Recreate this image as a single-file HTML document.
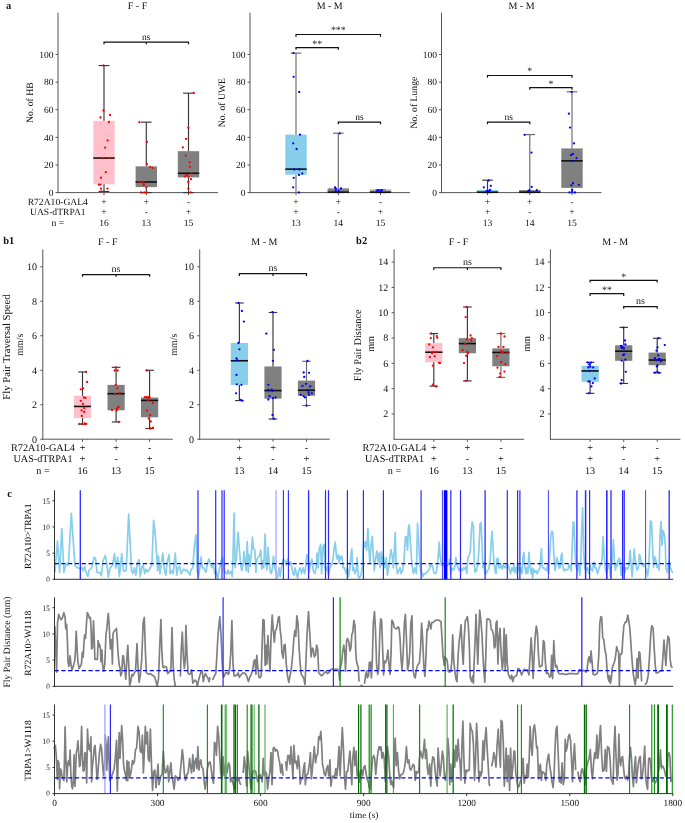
<!DOCTYPE html>
<html><head><meta charset="utf-8"><style>
html,body{margin:0;padding:0;background:#fff;}
svg{display:block;font-family:"Liberation Serif", serif;text-rendering:geometricPrecision;filter:blur(0.3px);}
</style></head><body>
<svg width="685" height="823" viewBox="0 0 685 823">
<rect width="685" height="823" fill="#fff"/>
<text x="8.60" y="8.80" font-size="10.5" text-anchor="middle" font-weight="bold" fill="#111">a</text>
<line x1="58.00" y1="12.60" x2="58.00" y2="193.10" stroke="#555" stroke-width="1"/>
<line x1="57.50" y1="192.60" x2="218.00" y2="192.60" stroke="#555" stroke-width="1"/>
<line x1="55.50" y1="192.60" x2="58.00" y2="192.60" stroke="#555" stroke-width="1"/>
<text x="53.50" y="195.83" font-size="9.5" text-anchor="end" font-weight="normal" fill="#111">0</text>
<line x1="55.50" y1="164.98" x2="58.00" y2="164.98" stroke="#555" stroke-width="1"/>
<text x="53.50" y="168.21" font-size="9.5" text-anchor="end" font-weight="normal" fill="#111">20</text>
<line x1="55.50" y1="137.36" x2="58.00" y2="137.36" stroke="#555" stroke-width="1"/>
<text x="53.50" y="140.59" font-size="9.5" text-anchor="end" font-weight="normal" fill="#111">40</text>
<line x1="55.50" y1="109.74" x2="58.00" y2="109.74" stroke="#555" stroke-width="1"/>
<text x="53.50" y="112.97" font-size="9.5" text-anchor="end" font-weight="normal" fill="#111">60</text>
<line x1="55.50" y1="82.12" x2="58.00" y2="82.12" stroke="#555" stroke-width="1"/>
<text x="53.50" y="85.35" font-size="9.5" text-anchor="end" font-weight="normal" fill="#111">80</text>
<line x1="55.50" y1="54.50" x2="58.00" y2="54.50" stroke="#555" stroke-width="1"/>
<text x="53.50" y="57.73" font-size="9.5" text-anchor="end" font-weight="normal" fill="#111">100</text>
<line x1="104.00" y1="192.60" x2="104.00" y2="195.10" stroke="#555" stroke-width="1"/>
<line x1="146.30" y1="192.60" x2="146.30" y2="195.10" stroke="#555" stroke-width="1"/>
<line x1="188.50" y1="192.60" x2="188.50" y2="195.10" stroke="#555" stroke-width="1"/>
<rect x="93.30" y="120.79" width="21.40" height="63.53" fill="#ffc0cb"/>
<line x1="104.00" y1="65.55" x2="104.00" y2="120.79" stroke="#363636" stroke-width="1.15"/>
<line x1="104.00" y1="184.31" x2="104.00" y2="191.50" stroke="#363636" stroke-width="1.15"/>
<line x1="98.65" y1="65.55" x2="109.35" y2="65.55" stroke="#363636" stroke-width="1.15"/>
<line x1="98.65" y1="191.50" x2="109.35" y2="191.50" stroke="#363636" stroke-width="1.15"/>
<line x1="93.30" y1="158.07" x2="114.70" y2="158.07" stroke="#111" stroke-width="1.6"/>
<circle cx="103.40" cy="65.50" r="1.15" fill="#ff0000"/>
<circle cx="103.40" cy="110.50" r="1.15" fill="#ff0000"/>
<circle cx="100.50" cy="117.50" r="1.15" fill="#ff0000"/>
<circle cx="110.00" cy="115.00" r="1.15" fill="#ff0000"/>
<circle cx="109.00" cy="122.00" r="1.15" fill="#ff0000"/>
<circle cx="107.60" cy="140.40" r="1.15" fill="#ff0000"/>
<circle cx="105.10" cy="147.60" r="1.15" fill="#ff0000"/>
<circle cx="103.10" cy="158.10" r="1.15" fill="#ff0000"/>
<circle cx="109.60" cy="158.10" r="1.15" fill="#ff0000"/>
<circle cx="105.80" cy="172.20" r="1.15" fill="#ff0000"/>
<circle cx="101.00" cy="177.70" r="1.15" fill="#ff0000"/>
<circle cx="98.80" cy="184.70" r="1.15" fill="#ff0000"/>
<circle cx="100.50" cy="184.70" r="1.15" fill="#ff0000"/>
<circle cx="101.00" cy="188.60" r="1.15" fill="#ff0000"/>
<circle cx="107.50" cy="188.60" r="1.15" fill="#ff0000"/>
<circle cx="101.40" cy="191.50" r="1.15" fill="#ff0000"/>
<rect x="135.60" y="166.36" width="21.40" height="20.71" fill="#808080"/>
<line x1="146.30" y1="122.17" x2="146.30" y2="166.36" stroke="#363636" stroke-width="1.15"/>
<line x1="146.30" y1="187.08" x2="146.30" y2="192.60" stroke="#363636" stroke-width="1.15"/>
<line x1="140.95" y1="122.17" x2="151.65" y2="122.17" stroke="#363636" stroke-width="1.15"/>
<line x1="140.95" y1="192.60" x2="151.65" y2="192.60" stroke="#363636" stroke-width="1.15"/>
<line x1="135.60" y1="181.97" x2="157.00" y2="181.97" stroke="#111" stroke-width="1.6"/>
<circle cx="139.40" cy="122.20" r="1.15" fill="#ff0000"/>
<circle cx="146.90" cy="141.90" r="1.15" fill="#ff0000"/>
<circle cx="146.90" cy="163.90" r="1.15" fill="#ff0000"/>
<circle cx="150.20" cy="166.80" r="1.15" fill="#ff0000"/>
<circle cx="152.60" cy="168.10" r="1.15" fill="#ff0000"/>
<circle cx="139.70" cy="182.00" r="1.15" fill="#ff0000"/>
<circle cx="143.30" cy="182.00" r="1.15" fill="#ff0000"/>
<circle cx="143.70" cy="183.80" r="1.15" fill="#ff0000"/>
<circle cx="143.70" cy="185.20" r="1.15" fill="#ff0000"/>
<circle cx="146.30" cy="187.30" r="1.15" fill="#ff0000"/>
<circle cx="141.00" cy="192.50" r="1.15" fill="#ff0000"/>
<circle cx="144.30" cy="192.50" r="1.15" fill="#ff0000"/>
<circle cx="146.90" cy="192.50" r="1.15" fill="#ff0000"/>
<rect x="177.80" y="151.17" width="21.40" height="26.24" fill="#808080"/>
<line x1="188.50" y1="93.17" x2="188.50" y2="151.17" stroke="#363636" stroke-width="1.15"/>
<line x1="188.50" y1="177.41" x2="188.50" y2="192.60" stroke="#363636" stroke-width="1.15"/>
<line x1="183.15" y1="93.17" x2="193.85" y2="93.17" stroke="#363636" stroke-width="1.15"/>
<line x1="183.15" y1="192.60" x2="193.85" y2="192.60" stroke="#363636" stroke-width="1.15"/>
<line x1="177.80" y1="173.27" x2="199.20" y2="173.27" stroke="#111" stroke-width="1.6"/>
<circle cx="193.80" cy="92.90" r="1.15" fill="#ff0000"/>
<circle cx="188.30" cy="127.70" r="1.15" fill="#ff0000"/>
<circle cx="186.10" cy="138.90" r="1.15" fill="#ff0000"/>
<circle cx="182.80" cy="147.40" r="1.15" fill="#ff0000"/>
<circle cx="185.70" cy="155.60" r="1.15" fill="#ff0000"/>
<circle cx="189.60" cy="162.30" r="1.15" fill="#ff0000"/>
<circle cx="189.90" cy="166.80" r="1.15" fill="#ff0000"/>
<circle cx="191.60" cy="173.70" r="1.15" fill="#ff0000"/>
<circle cx="187.00" cy="175.00" r="1.15" fill="#ff0000"/>
<circle cx="185.00" cy="176.40" r="1.15" fill="#ff0000"/>
<circle cx="188.30" cy="176.60" r="1.15" fill="#ff0000"/>
<circle cx="191.00" cy="179.20" r="1.15" fill="#ff0000"/>
<circle cx="188.30" cy="182.00" r="1.15" fill="#ff0000"/>
<circle cx="188.30" cy="188.60" r="1.15" fill="#ff0000"/>
<circle cx="190.60" cy="192.40" r="1.15" fill="#ff0000"/>
<path d="M104.00 44.27 V42.07 H188.50 V44.27" fill="none" stroke="#111" stroke-width="1.2"/>
<line x1="146.30" y1="42.07" x2="146.30" y2="44.27" stroke="#111" stroke-width="1.2"/>
<text x="146.25" y="40.07" font-size="9.5" text-anchor="middle" font-weight="normal" fill="#111">ns</text>
<text x="137.50" y="8.80" font-size="10" text-anchor="middle" font-weight="normal" fill="#111">F - F</text>
<text x="33.30" y="102.60" font-size="9.7" text-anchor="middle" font-weight="normal" fill="#111" transform="rotate(-90 33.3 102.6)">No. of HB</text>
<line x1="250.00" y1="12.60" x2="250.00" y2="193.10" stroke="#555" stroke-width="1"/>
<line x1="249.50" y1="192.60" x2="410.00" y2="192.60" stroke="#555" stroke-width="1"/>
<line x1="247.50" y1="192.60" x2="250.00" y2="192.60" stroke="#555" stroke-width="1"/>
<text x="245.50" y="195.83" font-size="9.5" text-anchor="end" font-weight="normal" fill="#111">0</text>
<line x1="247.50" y1="164.98" x2="250.00" y2="164.98" stroke="#555" stroke-width="1"/>
<text x="245.50" y="168.21" font-size="9.5" text-anchor="end" font-weight="normal" fill="#111">20</text>
<line x1="247.50" y1="137.36" x2="250.00" y2="137.36" stroke="#555" stroke-width="1"/>
<text x="245.50" y="140.59" font-size="9.5" text-anchor="end" font-weight="normal" fill="#111">40</text>
<line x1="247.50" y1="109.74" x2="250.00" y2="109.74" stroke="#555" stroke-width="1"/>
<text x="245.50" y="112.97" font-size="9.5" text-anchor="end" font-weight="normal" fill="#111">60</text>
<line x1="247.50" y1="82.12" x2="250.00" y2="82.12" stroke="#555" stroke-width="1"/>
<text x="245.50" y="85.35" font-size="9.5" text-anchor="end" font-weight="normal" fill="#111">80</text>
<line x1="247.50" y1="54.50" x2="250.00" y2="54.50" stroke="#555" stroke-width="1"/>
<text x="245.50" y="57.73" font-size="9.5" text-anchor="end" font-weight="normal" fill="#111">100</text>
<line x1="296.00" y1="192.60" x2="296.00" y2="195.10" stroke="#555" stroke-width="1"/>
<line x1="338.30" y1="192.60" x2="338.30" y2="195.10" stroke="#555" stroke-width="1"/>
<line x1="380.50" y1="192.60" x2="380.50" y2="195.10" stroke="#555" stroke-width="1"/>
<rect x="285.30" y="134.60" width="21.40" height="40.05" fill="#87ceeb"/>
<line x1="296.00" y1="53.12" x2="296.00" y2="134.60" stroke="#6a6a6a" stroke-width="1.15"/>
<line x1="296.00" y1="174.65" x2="296.00" y2="192.60" stroke="#6a6a6a" stroke-width="1.15"/>
<line x1="290.65" y1="53.12" x2="301.35" y2="53.12" stroke="#6a6a6a" stroke-width="1.15"/>
<line x1="290.65" y1="192.60" x2="301.35" y2="192.60" stroke="#6a6a6a" stroke-width="1.15"/>
<line x1="285.30" y1="169.12" x2="306.70" y2="169.12" stroke="#111" stroke-width="1.6"/>
<circle cx="293.60" cy="53.10" r="1.15" fill="#0000ff"/>
<circle cx="293.60" cy="76.80" r="1.15" fill="#0000ff"/>
<circle cx="299.20" cy="91.90" r="1.15" fill="#0000ff"/>
<circle cx="300.00" cy="134.70" r="1.15" fill="#0000ff"/>
<circle cx="293.20" cy="143.30" r="1.15" fill="#0000ff"/>
<circle cx="296.60" cy="149.00" r="1.15" fill="#0000ff"/>
<circle cx="294.10" cy="169.50" r="1.15" fill="#0000ff"/>
<circle cx="299.40" cy="169.50" r="1.15" fill="#0000ff"/>
<circle cx="302.30" cy="173.60" r="1.15" fill="#0000ff"/>
<circle cx="299.00" cy="175.00" r="1.15" fill="#0000ff"/>
<circle cx="293.70" cy="177.80" r="1.15" fill="#0000ff"/>
<circle cx="293.20" cy="187.30" r="1.15" fill="#0000ff"/>
<circle cx="298.80" cy="192.40" r="1.15" fill="#0000ff"/>
<rect x="327.60" y="188.32" width="21.40" height="4.28" fill="#808080"/>
<line x1="338.30" y1="133.22" x2="338.30" y2="188.32" stroke="#6a6a6a" stroke-width="1.15"/>
<line x1="338.30" y1="192.60" x2="338.30" y2="192.60" stroke="#6a6a6a" stroke-width="1.15"/>
<line x1="332.95" y1="133.22" x2="343.65" y2="133.22" stroke="#6a6a6a" stroke-width="1.15"/>
<line x1="332.95" y1="192.60" x2="343.65" y2="192.60" stroke="#6a6a6a" stroke-width="1.15"/>
<line x1="327.60" y1="192.19" x2="349.00" y2="192.19" stroke="#111" stroke-width="1.6"/>
<circle cx="339.70" cy="133.40" r="1.15" fill="#0000ff"/>
<circle cx="335.00" cy="187.30" r="1.15" fill="#0000ff"/>
<circle cx="335.80" cy="188.70" r="1.15" fill="#0000ff"/>
<circle cx="341.00" cy="188.50" r="1.15" fill="#0000ff"/>
<circle cx="335.80" cy="191.00" r="1.15" fill="#0000ff"/>
<circle cx="338.70" cy="191.00" r="1.15" fill="#0000ff"/>
<rect x="369.80" y="189.42" width="21.40" height="3.18" fill="#b0b0b0"/>
<line x1="380.50" y1="189.84" x2="380.50" y2="189.42" stroke="#6a6a6a" stroke-width="1.15"/>
<line x1="380.50" y1="192.60" x2="380.50" y2="192.60" stroke="#6a6a6a" stroke-width="1.15"/>
<line x1="375.15" y1="189.84" x2="385.85" y2="189.84" stroke="#6a6a6a" stroke-width="1.15"/>
<line x1="375.15" y1="192.60" x2="385.85" y2="192.60" stroke="#6a6a6a" stroke-width="1.15"/>
<line x1="369.80" y1="192.19" x2="391.20" y2="192.19" stroke="#111" stroke-width="1.6"/>
<circle cx="377.20" cy="191.00" r="1.15" fill="#0000ff"/>
<circle cx="378.40" cy="190.10" r="1.15" fill="#0000ff"/>
<circle cx="381.90" cy="190.10" r="1.15" fill="#0000ff"/>
<circle cx="380.50" cy="191.00" r="1.15" fill="#0000ff"/>
<path d="M296.00 36.68 V34.48 H380.50 V36.68" fill="none" stroke="#111" stroke-width="1.2"/>
<text x="338.25" y="33.48" font-size="9.8" text-anchor="middle" font-weight="normal" fill="#111">***</text>
<path d="M296.00 49.80 V47.59 H338.30 V49.80" fill="none" stroke="#111" stroke-width="1.2"/>
<text x="317.15" y="46.59" font-size="9.8" text-anchor="middle" font-weight="normal" fill="#111">**</text>
<path d="M338.30 124.23 V122.03 H380.50 V124.23" fill="none" stroke="#111" stroke-width="1.2"/>
<text x="359.40" y="120.03" font-size="9.5" text-anchor="middle" font-weight="normal" fill="#111">ns</text>
<text x="329.70" y="8.80" font-size="10" text-anchor="middle" font-weight="normal" fill="#111">M - M</text>
<text x="225.30" y="102.60" font-size="9.7" text-anchor="middle" font-weight="normal" fill="#111" transform="rotate(-90 225.3 102.6)">No. of UWE</text>
<line x1="441.50" y1="12.60" x2="441.50" y2="193.10" stroke="#555" stroke-width="1"/>
<line x1="441.00" y1="192.60" x2="601.50" y2="192.60" stroke="#555" stroke-width="1"/>
<line x1="439.00" y1="192.60" x2="441.50" y2="192.60" stroke="#555" stroke-width="1"/>
<text x="437.00" y="195.83" font-size="9.5" text-anchor="end" font-weight="normal" fill="#111">0</text>
<line x1="439.00" y1="164.98" x2="441.50" y2="164.98" stroke="#555" stroke-width="1"/>
<text x="437.00" y="168.21" font-size="9.5" text-anchor="end" font-weight="normal" fill="#111">20</text>
<line x1="439.00" y1="137.36" x2="441.50" y2="137.36" stroke="#555" stroke-width="1"/>
<text x="437.00" y="140.59" font-size="9.5" text-anchor="end" font-weight="normal" fill="#111">40</text>
<line x1="439.00" y1="109.74" x2="441.50" y2="109.74" stroke="#555" stroke-width="1"/>
<text x="437.00" y="112.97" font-size="9.5" text-anchor="end" font-weight="normal" fill="#111">60</text>
<line x1="439.00" y1="82.12" x2="441.50" y2="82.12" stroke="#555" stroke-width="1"/>
<text x="437.00" y="85.35" font-size="9.5" text-anchor="end" font-weight="normal" fill="#111">80</text>
<line x1="439.00" y1="54.50" x2="441.50" y2="54.50" stroke="#555" stroke-width="1"/>
<text x="437.00" y="57.73" font-size="9.5" text-anchor="end" font-weight="normal" fill="#111">100</text>
<line x1="487.50" y1="192.60" x2="487.50" y2="195.10" stroke="#555" stroke-width="1"/>
<line x1="529.80" y1="192.60" x2="529.80" y2="195.10" stroke="#555" stroke-width="1"/>
<line x1="572.00" y1="192.60" x2="572.00" y2="195.10" stroke="#555" stroke-width="1"/>
<rect x="476.80" y="189.84" width="21.40" height="2.76" fill="#87ceeb"/>
<line x1="487.50" y1="180.17" x2="487.50" y2="189.84" stroke="#363636" stroke-width="1.15"/>
<line x1="487.50" y1="192.60" x2="487.50" y2="192.60" stroke="#363636" stroke-width="1.15"/>
<line x1="482.15" y1="180.17" x2="492.85" y2="180.17" stroke="#363636" stroke-width="1.15"/>
<line x1="482.15" y1="192.60" x2="492.85" y2="192.60" stroke="#363636" stroke-width="1.15"/>
<line x1="476.80" y1="192.19" x2="498.20" y2="192.19" stroke="#111" stroke-width="1.6"/>
<circle cx="488.70" cy="180.50" r="1.15" fill="#0000ff"/>
<circle cx="483.80" cy="187.30" r="1.15" fill="#0000ff"/>
<circle cx="490.80" cy="185.80" r="1.15" fill="#0000ff"/>
<circle cx="490.10" cy="189.90" r="1.15" fill="#0000ff"/>
<circle cx="488.90" cy="191.00" r="1.15" fill="#0000ff"/>
<circle cx="486.40" cy="191.30" r="1.15" fill="#0000ff"/>
<circle cx="487.50" cy="191.00" r="1.15" fill="#0000ff"/>
<rect x="519.10" y="190.11" width="21.40" height="2.49" fill="#808080"/>
<line x1="529.80" y1="134.60" x2="529.80" y2="190.11" stroke="#6a6a6a" stroke-width="1.15"/>
<line x1="529.80" y1="192.60" x2="529.80" y2="192.60" stroke="#6a6a6a" stroke-width="1.15"/>
<line x1="524.45" y1="134.60" x2="535.15" y2="134.60" stroke="#6a6a6a" stroke-width="1.15"/>
<line x1="524.45" y1="192.60" x2="535.15" y2="192.60" stroke="#6a6a6a" stroke-width="1.15"/>
<line x1="519.10" y1="192.19" x2="540.50" y2="192.19" stroke="#111" stroke-width="1.6"/>
<circle cx="524.60" cy="134.80" r="1.15" fill="#0000ff"/>
<circle cx="531.50" cy="152.60" r="1.15" fill="#0000ff"/>
<circle cx="531.70" cy="186.90" r="1.15" fill="#0000ff"/>
<circle cx="529.60" cy="190.10" r="1.15" fill="#0000ff"/>
<circle cx="536.80" cy="190.10" r="1.15" fill="#0000ff"/>
<circle cx="528.40" cy="191.00" r="1.15" fill="#0000ff"/>
<rect x="561.30" y="148.41" width="21.40" height="39.50" fill="#808080"/>
<line x1="572.00" y1="91.79" x2="572.00" y2="148.41" stroke="#6a6a6a" stroke-width="1.15"/>
<line x1="572.00" y1="187.90" x2="572.00" y2="192.60" stroke="#6a6a6a" stroke-width="1.15"/>
<line x1="566.65" y1="91.79" x2="577.35" y2="91.79" stroke="#6a6a6a" stroke-width="1.15"/>
<line x1="566.65" y1="192.60" x2="577.35" y2="192.60" stroke="#6a6a6a" stroke-width="1.15"/>
<line x1="561.30" y1="160.84" x2="582.70" y2="160.84" stroke="#111" stroke-width="1.6"/>
<circle cx="571.60" cy="91.90" r="1.15" fill="#0000ff"/>
<circle cx="568.90" cy="113.70" r="1.15" fill="#0000ff"/>
<circle cx="570.00" cy="127.60" r="1.15" fill="#0000ff"/>
<circle cx="574.00" cy="143.40" r="1.15" fill="#0000ff"/>
<circle cx="572.80" cy="154.00" r="1.15" fill="#0000ff"/>
<circle cx="571.00" cy="155.20" r="1.15" fill="#0000ff"/>
<circle cx="576.50" cy="158.10" r="1.15" fill="#0000ff"/>
<circle cx="572.60" cy="161.10" r="1.15" fill="#0000ff"/>
<circle cx="571.40" cy="185.30" r="1.15" fill="#0000ff"/>
<circle cx="573.00" cy="183.20" r="1.15" fill="#0000ff"/>
<circle cx="578.90" cy="184.80" r="1.15" fill="#0000ff"/>
<circle cx="572.20" cy="190.00" r="1.15" fill="#0000ff"/>
<circle cx="572.20" cy="192.00" r="1.15" fill="#0000ff"/>
<circle cx="569.50" cy="192.30" r="1.15" fill="#0000ff"/>
<circle cx="575.00" cy="192.40" r="1.15" fill="#0000ff"/>
<path d="M487.50 77.69 V75.49 H572.00 V77.69" fill="none" stroke="#111" stroke-width="1.2"/>
<text x="529.75" y="74.49" font-size="9.8" text-anchor="middle" font-weight="normal" fill="#111">*</text>
<path d="M529.80 89.84 V87.64 H572.00 V89.84" fill="none" stroke="#111" stroke-width="1.2"/>
<text x="550.90" y="86.64" font-size="9.8" text-anchor="middle" font-weight="normal" fill="#111">*</text>
<path d="M487.50 124.23 V122.03 H529.80 V124.23" fill="none" stroke="#111" stroke-width="1.2"/>
<text x="508.65" y="120.03" font-size="9.5" text-anchor="middle" font-weight="normal" fill="#111">ns</text>
<text x="521.50" y="8.80" font-size="10" text-anchor="middle" font-weight="normal" fill="#111">M - M</text>
<text x="417.00" y="102.60" font-size="9.7" text-anchor="middle" font-weight="normal" fill="#111" transform="rotate(-90 417 102.6)">No. of Lunge</text>
<text x="57.80" y="204.50" font-size="9.6" text-anchor="middle" font-weight="normal" fill="#111">R72A10-GAL4</text>
<text x="104.00" y="204.50" font-size="9.6" text-anchor="middle" font-weight="normal" fill="#111">+</text>
<text x="146.30" y="204.50" font-size="9.6" text-anchor="middle" font-weight="normal" fill="#111">+</text>
<text x="188.50" y="204.50" font-size="9.6" text-anchor="middle" font-weight="normal" fill="#111">-</text>
<text x="57.80" y="215.20" font-size="9.6" text-anchor="middle" font-weight="normal" fill="#111">UAS-dTRPA1</text>
<text x="104.00" y="215.20" font-size="9.6" text-anchor="middle" font-weight="normal" fill="#111">+</text>
<text x="146.30" y="215.20" font-size="9.6" text-anchor="middle" font-weight="normal" fill="#111">-</text>
<text x="188.50" y="215.20" font-size="9.6" text-anchor="middle" font-weight="normal" fill="#111">+</text>
<text x="57.80" y="226.00" font-size="9.6" text-anchor="middle" font-weight="normal" fill="#111">n =</text>
<text x="104.00" y="226.00" font-size="9.6" text-anchor="middle" font-weight="normal" fill="#111">16</text>
<text x="146.30" y="226.00" font-size="9.6" text-anchor="middle" font-weight="normal" fill="#111">13</text>
<text x="188.50" y="226.00" font-size="9.6" text-anchor="middle" font-weight="normal" fill="#111">15</text>
<text x="296.00" y="204.50" font-size="9.6" text-anchor="middle" font-weight="normal" fill="#111">+</text>
<text x="338.30" y="204.50" font-size="9.6" text-anchor="middle" font-weight="normal" fill="#111">+</text>
<text x="380.50" y="204.50" font-size="9.6" text-anchor="middle" font-weight="normal" fill="#111">-</text>
<text x="296.00" y="215.20" font-size="9.6" text-anchor="middle" font-weight="normal" fill="#111">+</text>
<text x="338.30" y="215.20" font-size="9.6" text-anchor="middle" font-weight="normal" fill="#111">-</text>
<text x="380.50" y="215.20" font-size="9.6" text-anchor="middle" font-weight="normal" fill="#111">+</text>
<text x="296.00" y="226.00" font-size="9.6" text-anchor="middle" font-weight="normal" fill="#111">13</text>
<text x="338.30" y="226.00" font-size="9.6" text-anchor="middle" font-weight="normal" fill="#111">14</text>
<text x="380.50" y="226.00" font-size="9.6" text-anchor="middle" font-weight="normal" fill="#111">15</text>
<text x="487.50" y="204.50" font-size="9.6" text-anchor="middle" font-weight="normal" fill="#111">+</text>
<text x="529.80" y="204.50" font-size="9.6" text-anchor="middle" font-weight="normal" fill="#111">+</text>
<text x="572.00" y="204.50" font-size="9.6" text-anchor="middle" font-weight="normal" fill="#111">-</text>
<text x="487.50" y="215.20" font-size="9.6" text-anchor="middle" font-weight="normal" fill="#111">+</text>
<text x="529.80" y="215.20" font-size="9.6" text-anchor="middle" font-weight="normal" fill="#111">-</text>
<text x="572.00" y="215.20" font-size="9.6" text-anchor="middle" font-weight="normal" fill="#111">+</text>
<text x="487.50" y="226.00" font-size="9.6" text-anchor="middle" font-weight="normal" fill="#111">13</text>
<text x="529.80" y="226.00" font-size="9.6" text-anchor="middle" font-weight="normal" fill="#111">14</text>
<text x="572.00" y="226.00" font-size="9.6" text-anchor="middle" font-weight="normal" fill="#111">15</text>
<text x="8.80" y="244.40" font-size="10.5" text-anchor="middle" font-weight="bold" fill="#111">b1</text>
<line x1="42.80" y1="249.40" x2="42.80" y2="439.70" stroke="#555" stroke-width="1"/>
<line x1="42.30" y1="439.20" x2="172.80" y2="439.20" stroke="#555" stroke-width="1"/>
<line x1="40.30" y1="439.20" x2="42.80" y2="439.20" stroke="#555" stroke-width="1"/>
<text x="37.00" y="442.60" font-size="10" text-anchor="end" font-weight="normal" fill="#111">0</text>
<line x1="40.30" y1="404.72" x2="42.80" y2="404.72" stroke="#555" stroke-width="1"/>
<text x="37.00" y="408.12" font-size="10" text-anchor="end" font-weight="normal" fill="#111">2</text>
<line x1="40.30" y1="370.24" x2="42.80" y2="370.24" stroke="#555" stroke-width="1"/>
<text x="37.00" y="373.64" font-size="10" text-anchor="end" font-weight="normal" fill="#111">4</text>
<line x1="40.30" y1="335.76" x2="42.80" y2="335.76" stroke="#555" stroke-width="1"/>
<text x="37.00" y="339.16" font-size="10" text-anchor="end" font-weight="normal" fill="#111">6</text>
<line x1="40.30" y1="301.28" x2="42.80" y2="301.28" stroke="#555" stroke-width="1"/>
<text x="37.00" y="304.68" font-size="10" text-anchor="end" font-weight="normal" fill="#111">8</text>
<line x1="40.30" y1="266.80" x2="42.80" y2="266.80" stroke="#555" stroke-width="1"/>
<text x="37.00" y="270.20" font-size="10" text-anchor="end" font-weight="normal" fill="#111">10</text>
<line x1="82.50" y1="439.20" x2="82.50" y2="441.70" stroke="#555" stroke-width="1"/>
<line x1="116.10" y1="439.20" x2="116.10" y2="441.70" stroke="#555" stroke-width="1"/>
<line x1="149.60" y1="439.20" x2="149.60" y2="441.70" stroke="#555" stroke-width="1"/>
<rect x="73.90" y="395.76" width="17.20" height="22.41" fill="#ffc0cb"/>
<line x1="82.50" y1="371.96" x2="82.50" y2="395.76" stroke="#363636" stroke-width="1.15"/>
<line x1="82.50" y1="418.17" x2="82.50" y2="424.20" stroke="#363636" stroke-width="1.15"/>
<line x1="78.20" y1="371.96" x2="86.80" y2="371.96" stroke="#363636" stroke-width="1.15"/>
<line x1="78.20" y1="424.20" x2="86.80" y2="424.20" stroke="#363636" stroke-width="1.15"/>
<line x1="73.90" y1="406.44" x2="91.10" y2="406.44" stroke="#111" stroke-width="1.6"/>
<circle cx="86.00" cy="371.90" r="1.15" fill="#ff0000"/>
<circle cx="87.10" cy="382.00" r="1.15" fill="#ff0000"/>
<circle cx="80.80" cy="389.30" r="1.15" fill="#ff0000"/>
<circle cx="83.10" cy="388.30" r="1.15" fill="#ff0000"/>
<circle cx="83.80" cy="397.50" r="1.15" fill="#ff0000"/>
<circle cx="85.50" cy="397.90" r="1.15" fill="#ff0000"/>
<circle cx="80.80" cy="400.80" r="1.15" fill="#ff0000"/>
<circle cx="83.10" cy="404.00" r="1.15" fill="#ff0000"/>
<circle cx="84.20" cy="408.00" r="1.15" fill="#ff0000"/>
<circle cx="81.60" cy="410.40" r="1.15" fill="#ff0000"/>
<circle cx="84.20" cy="412.00" r="1.15" fill="#ff0000"/>
<circle cx="81.80" cy="415.90" r="1.15" fill="#ff0000"/>
<circle cx="79.50" cy="423.80" r="1.15" fill="#ff0000"/>
<circle cx="82.10" cy="424.00" r="1.15" fill="#ff0000"/>
<circle cx="84.70" cy="423.50" r="1.15" fill="#ff0000"/>
<circle cx="86.40" cy="423.80" r="1.15" fill="#ff0000"/>
<rect x="107.50" y="384.89" width="17.20" height="25.34" fill="#808080"/>
<line x1="116.10" y1="367.31" x2="116.10" y2="384.89" stroke="#363636" stroke-width="1.15"/>
<line x1="116.10" y1="410.24" x2="116.10" y2="421.96" stroke="#363636" stroke-width="1.15"/>
<line x1="111.80" y1="367.31" x2="120.40" y2="367.31" stroke="#363636" stroke-width="1.15"/>
<line x1="111.80" y1="421.96" x2="120.40" y2="421.96" stroke="#363636" stroke-width="1.15"/>
<line x1="107.50" y1="393.69" x2="124.70" y2="393.69" stroke="#111" stroke-width="1.6"/>
<circle cx="115.70" cy="367.50" r="1.15" fill="#ff0000"/>
<circle cx="114.70" cy="370.50" r="1.15" fill="#ff0000"/>
<circle cx="117.60" cy="370.50" r="1.15" fill="#ff0000"/>
<circle cx="115.70" cy="385.00" r="1.15" fill="#ff0000"/>
<circle cx="117.30" cy="388.30" r="1.15" fill="#ff0000"/>
<circle cx="115.30" cy="393.80" r="1.15" fill="#ff0000"/>
<circle cx="119.70" cy="392.90" r="1.15" fill="#ff0000"/>
<circle cx="118.00" cy="406.90" r="1.15" fill="#ff0000"/>
<circle cx="117.00" cy="409.00" r="1.15" fill="#ff0000"/>
<circle cx="116.60" cy="410.40" r="1.15" fill="#ff0000"/>
<circle cx="112.00" cy="410.00" r="1.15" fill="#ff0000"/>
<circle cx="118.90" cy="421.80" r="1.15" fill="#ff0000"/>
<circle cx="118.60" cy="407.30" r="1.15" fill="#ff0000"/>
<rect x="141.00" y="397.48" width="17.20" height="19.83" fill="#808080"/>
<line x1="149.60" y1="370.24" x2="149.60" y2="397.48" stroke="#363636" stroke-width="1.15"/>
<line x1="149.60" y1="417.31" x2="149.60" y2="428.51" stroke="#363636" stroke-width="1.15"/>
<line x1="145.30" y1="370.24" x2="153.90" y2="370.24" stroke="#363636" stroke-width="1.15"/>
<line x1="145.30" y1="428.51" x2="153.90" y2="428.51" stroke="#363636" stroke-width="1.15"/>
<line x1="141.00" y1="400.41" x2="158.20" y2="400.41" stroke="#111" stroke-width="1.6"/>
<circle cx="146.90" cy="370.50" r="1.15" fill="#ff0000"/>
<circle cx="144.90" cy="397.20" r="1.15" fill="#ff0000"/>
<circle cx="146.50" cy="397.20" r="1.15" fill="#ff0000"/>
<circle cx="148.20" cy="397.50" r="1.15" fill="#ff0000"/>
<circle cx="149.50" cy="397.70" r="1.15" fill="#ff0000"/>
<circle cx="147.80" cy="400.10" r="1.15" fill="#ff0000"/>
<circle cx="152.80" cy="403.00" r="1.15" fill="#ff0000"/>
<circle cx="146.90" cy="410.60" r="1.15" fill="#ff0000"/>
<circle cx="150.10" cy="415.20" r="1.15" fill="#ff0000"/>
<circle cx="148.80" cy="418.50" r="1.15" fill="#ff0000"/>
<circle cx="150.80" cy="421.40" r="1.15" fill="#ff0000"/>
<circle cx="150.40" cy="428.40" r="1.15" fill="#ff0000"/>
<circle cx="152.80" cy="427.70" r="1.15" fill="#ff0000"/>
<circle cx="149.90" cy="428.40" r="1.15" fill="#ff0000"/>
<circle cx="148.60" cy="397.20" r="1.15" fill="#ff0000"/>
<path d="M82.50 276.76 V274.56 H149.60 V276.76" fill="none" stroke="#111" stroke-width="1.2"/>
<line x1="116.10" y1="274.56" x2="116.10" y2="276.76" stroke="#111" stroke-width="1.2"/>
<text x="116.05" y="271.76" font-size="10" text-anchor="middle" font-weight="normal" fill="#111">ns</text>
<text x="107.80" y="244.50" font-size="10" text-anchor="middle" font-weight="normal" fill="#111">F - F</text>
<text x="9.60" y="347.00" font-size="10.7" text-anchor="middle" font-weight="normal" fill="#111" transform="rotate(-90 9.6 347)">Fly Pair Traversal Speed</text>
<text x="23.30" y="344.70" font-size="9.95" text-anchor="middle" font-weight="normal" fill="#111" transform="rotate(-90 23.3 344.7)">mm/s</text>
<line x1="199.70" y1="249.40" x2="199.70" y2="439.70" stroke="#555" stroke-width="1"/>
<line x1="199.20" y1="439.20" x2="329.70" y2="439.20" stroke="#555" stroke-width="1"/>
<line x1="197.20" y1="439.20" x2="199.70" y2="439.20" stroke="#555" stroke-width="1"/>
<text x="193.90" y="442.60" font-size="10" text-anchor="end" font-weight="normal" fill="#111">0</text>
<line x1="197.20" y1="404.72" x2="199.70" y2="404.72" stroke="#555" stroke-width="1"/>
<text x="193.90" y="408.12" font-size="10" text-anchor="end" font-weight="normal" fill="#111">2</text>
<line x1="197.20" y1="370.24" x2="199.70" y2="370.24" stroke="#555" stroke-width="1"/>
<text x="193.90" y="373.64" font-size="10" text-anchor="end" font-weight="normal" fill="#111">4</text>
<line x1="197.20" y1="335.76" x2="199.70" y2="335.76" stroke="#555" stroke-width="1"/>
<text x="193.90" y="339.16" font-size="10" text-anchor="end" font-weight="normal" fill="#111">6</text>
<line x1="197.20" y1="301.28" x2="199.70" y2="301.28" stroke="#555" stroke-width="1"/>
<text x="193.90" y="304.68" font-size="10" text-anchor="end" font-weight="normal" fill="#111">8</text>
<line x1="197.20" y1="266.80" x2="199.70" y2="266.80" stroke="#555" stroke-width="1"/>
<text x="193.90" y="270.20" font-size="10" text-anchor="end" font-weight="normal" fill="#111">10</text>
<line x1="239.40" y1="439.20" x2="239.40" y2="441.70" stroke="#555" stroke-width="1"/>
<line x1="273.00" y1="439.20" x2="273.00" y2="441.70" stroke="#555" stroke-width="1"/>
<line x1="306.50" y1="439.20" x2="306.50" y2="441.70" stroke="#555" stroke-width="1"/>
<rect x="230.80" y="343.00" width="17.20" height="41.89" fill="#87ceeb"/>
<line x1="239.40" y1="303.00" x2="239.40" y2="343.00" stroke="#363636" stroke-width="1.15"/>
<line x1="239.40" y1="384.89" x2="239.40" y2="400.58" stroke="#363636" stroke-width="1.15"/>
<line x1="235.10" y1="303.00" x2="243.70" y2="303.00" stroke="#363636" stroke-width="1.15"/>
<line x1="235.10" y1="400.58" x2="243.70" y2="400.58" stroke="#363636" stroke-width="1.15"/>
<line x1="230.80" y1="360.76" x2="248.00" y2="360.76" stroke="#111" stroke-width="1.6"/>
<circle cx="238.40" cy="302.80" r="1.15" fill="#0000ff"/>
<circle cx="241.90" cy="311.00" r="1.15" fill="#0000ff"/>
<circle cx="243.90" cy="321.60" r="1.15" fill="#0000ff"/>
<circle cx="238.40" cy="343.00" r="1.15" fill="#0000ff"/>
<circle cx="239.40" cy="349.30" r="1.15" fill="#0000ff"/>
<circle cx="236.50" cy="358.50" r="1.15" fill="#0000ff"/>
<circle cx="237.30" cy="360.50" r="1.15" fill="#0000ff"/>
<circle cx="236.50" cy="374.90" r="1.15" fill="#0000ff"/>
<circle cx="236.80" cy="384.30" r="1.15" fill="#0000ff"/>
<circle cx="241.40" cy="384.80" r="1.15" fill="#0000ff"/>
<circle cx="236.10" cy="393.30" r="1.15" fill="#0000ff"/>
<circle cx="240.60" cy="399.80" r="1.15" fill="#0000ff"/>
<circle cx="242.20" cy="400.70" r="1.15" fill="#0000ff"/>
<rect x="264.40" y="366.45" width="17.20" height="32.24" fill="#808080"/>
<line x1="273.00" y1="312.49" x2="273.00" y2="366.45" stroke="#363636" stroke-width="1.15"/>
<line x1="273.00" y1="398.69" x2="273.00" y2="419.03" stroke="#363636" stroke-width="1.15"/>
<line x1="268.70" y1="312.49" x2="277.30" y2="312.49" stroke="#363636" stroke-width="1.15"/>
<line x1="268.70" y1="419.03" x2="277.30" y2="419.03" stroke="#363636" stroke-width="1.15"/>
<line x1="264.40" y1="390.58" x2="281.60" y2="390.58" stroke="#111" stroke-width="1.6"/>
<circle cx="272.50" cy="312.10" r="1.15" fill="#0000ff"/>
<circle cx="266.30" cy="333.60" r="1.15" fill="#0000ff"/>
<circle cx="273.90" cy="349.80" r="1.15" fill="#0000ff"/>
<circle cx="272.90" cy="360.80" r="1.15" fill="#0000ff"/>
<circle cx="268.40" cy="384.80" r="1.15" fill="#0000ff"/>
<circle cx="268.00" cy="390.00" r="1.15" fill="#0000ff"/>
<circle cx="271.70" cy="389.70" r="1.15" fill="#0000ff"/>
<circle cx="272.50" cy="390.80" r="1.15" fill="#0000ff"/>
<circle cx="269.60" cy="396.20" r="1.15" fill="#0000ff"/>
<circle cx="268.40" cy="399.50" r="1.15" fill="#0000ff"/>
<circle cx="272.90" cy="398.20" r="1.15" fill="#0000ff"/>
<circle cx="275.50" cy="397.40" r="1.15" fill="#0000ff"/>
<circle cx="272.50" cy="414.90" r="1.15" fill="#0000ff"/>
<circle cx="273.90" cy="418.70" r="1.15" fill="#0000ff"/>
<rect x="297.90" y="380.58" width="17.20" height="15.17" fill="#808080"/>
<line x1="306.50" y1="361.28" x2="306.50" y2="380.58" stroke="#6a6a6a" stroke-width="1.15"/>
<line x1="306.50" y1="395.76" x2="306.50" y2="405.58" stroke="#6a6a6a" stroke-width="1.15"/>
<line x1="302.20" y1="361.28" x2="310.80" y2="361.28" stroke="#6a6a6a" stroke-width="1.15"/>
<line x1="302.20" y1="405.58" x2="310.80" y2="405.58" stroke="#6a6a6a" stroke-width="1.15"/>
<line x1="297.90" y1="390.24" x2="315.10" y2="390.24" stroke="#111" stroke-width="1.6"/>
<circle cx="307.50" cy="361.00" r="1.15" fill="#0000ff"/>
<circle cx="303.70" cy="372.50" r="1.15" fill="#0000ff"/>
<circle cx="309.10" cy="372.80" r="1.15" fill="#0000ff"/>
<circle cx="304.20" cy="376.90" r="1.15" fill="#0000ff"/>
<circle cx="306.10" cy="383.80" r="1.15" fill="#0000ff"/>
<circle cx="302.50" cy="385.90" r="1.15" fill="#0000ff"/>
<circle cx="310.20" cy="386.40" r="1.15" fill="#0000ff"/>
<circle cx="307.80" cy="390.00" r="1.15" fill="#0000ff"/>
<circle cx="300.90" cy="394.90" r="1.15" fill="#0000ff"/>
<circle cx="303.70" cy="396.20" r="1.15" fill="#0000ff"/>
<circle cx="305.00" cy="397.40" r="1.15" fill="#0000ff"/>
<circle cx="308.90" cy="394.90" r="1.15" fill="#0000ff"/>
<circle cx="311.90" cy="393.30" r="1.15" fill="#0000ff"/>
<circle cx="308.60" cy="392.50" r="1.15" fill="#0000ff"/>
<circle cx="306.60" cy="405.60" r="1.15" fill="#0000ff"/>
<path d="M239.40 275.90 V273.70 H306.50 V275.90" fill="none" stroke="#111" stroke-width="1.2"/>
<line x1="273.00" y1="273.70" x2="273.00" y2="275.90" stroke="#111" stroke-width="1.2"/>
<text x="272.95" y="270.90" font-size="10" text-anchor="middle" font-weight="normal" fill="#111">ns</text>
<text x="264.30" y="244.50" font-size="10" text-anchor="middle" font-weight="normal" fill="#111">M - M</text>
<text x="177.30" y="344.70" font-size="9.95" text-anchor="middle" font-weight="normal" fill="#111" transform="rotate(-90 177.3 344.7)">mm/s</text>
<text x="43.00" y="450.80" font-size="10.2" text-anchor="middle" font-weight="normal" fill="#111">R72A10-GAL4</text>
<text x="82.50" y="450.80" font-size="10.2" text-anchor="middle" font-weight="normal" fill="#111">+</text>
<text x="116.10" y="450.80" font-size="10.2" text-anchor="middle" font-weight="normal" fill="#111">+</text>
<text x="149.60" y="450.80" font-size="10.2" text-anchor="middle" font-weight="normal" fill="#111">-</text>
<text x="43.00" y="462.20" font-size="10.2" text-anchor="middle" font-weight="normal" fill="#111">UAS-dTRPA1</text>
<text x="82.50" y="462.20" font-size="10.2" text-anchor="middle" font-weight="normal" fill="#111">+</text>
<text x="116.10" y="462.20" font-size="10.2" text-anchor="middle" font-weight="normal" fill="#111">-</text>
<text x="149.60" y="462.20" font-size="10.2" text-anchor="middle" font-weight="normal" fill="#111">+</text>
<text x="43.00" y="473.80" font-size="10.2" text-anchor="middle" font-weight="normal" fill="#111">n =</text>
<text x="82.50" y="473.80" font-size="10.2" text-anchor="middle" font-weight="normal" fill="#111">16</text>
<text x="116.10" y="473.80" font-size="10.2" text-anchor="middle" font-weight="normal" fill="#111">13</text>
<text x="149.60" y="473.80" font-size="10.2" text-anchor="middle" font-weight="normal" fill="#111">15</text>
<text x="239.40" y="450.80" font-size="10.2" text-anchor="middle" font-weight="normal" fill="#111">+</text>
<text x="273.00" y="450.80" font-size="10.2" text-anchor="middle" font-weight="normal" fill="#111">+</text>
<text x="306.50" y="450.80" font-size="10.2" text-anchor="middle" font-weight="normal" fill="#111">-</text>
<text x="239.40" y="462.20" font-size="10.2" text-anchor="middle" font-weight="normal" fill="#111">+</text>
<text x="273.00" y="462.20" font-size="10.2" text-anchor="middle" font-weight="normal" fill="#111">-</text>
<text x="306.50" y="462.20" font-size="10.2" text-anchor="middle" font-weight="normal" fill="#111">+</text>
<text x="239.40" y="473.80" font-size="10.2" text-anchor="middle" font-weight="normal" fill="#111">13</text>
<text x="273.00" y="473.80" font-size="10.2" text-anchor="middle" font-weight="normal" fill="#111">14</text>
<text x="306.50" y="473.80" font-size="10.2" text-anchor="middle" font-weight="normal" fill="#111">15</text>
<text x="361.60" y="244.40" font-size="10.5" text-anchor="middle" font-weight="bold" fill="#111">b2</text>
<line x1="394.10" y1="249.40" x2="394.10" y2="439.80" stroke="#555" stroke-width="1"/>
<line x1="393.60" y1="439.30" x2="524.10" y2="439.30" stroke="#555" stroke-width="1"/>
<line x1="391.60" y1="413.98" x2="394.10" y2="413.98" stroke="#555" stroke-width="1"/>
<text x="388.30" y="417.38" font-size="10" text-anchor="end" font-weight="normal" fill="#111">2</text>
<line x1="391.60" y1="388.66" x2="394.10" y2="388.66" stroke="#555" stroke-width="1"/>
<text x="388.30" y="392.06" font-size="10" text-anchor="end" font-weight="normal" fill="#111">4</text>
<line x1="391.60" y1="363.34" x2="394.10" y2="363.34" stroke="#555" stroke-width="1"/>
<text x="388.30" y="366.74" font-size="10" text-anchor="end" font-weight="normal" fill="#111">6</text>
<line x1="391.60" y1="338.02" x2="394.10" y2="338.02" stroke="#555" stroke-width="1"/>
<text x="388.30" y="341.42" font-size="10" text-anchor="end" font-weight="normal" fill="#111">8</text>
<line x1="391.60" y1="312.70" x2="394.10" y2="312.70" stroke="#555" stroke-width="1"/>
<text x="388.30" y="316.10" font-size="10" text-anchor="end" font-weight="normal" fill="#111">10</text>
<line x1="391.60" y1="287.38" x2="394.10" y2="287.38" stroke="#555" stroke-width="1"/>
<text x="388.30" y="290.78" font-size="10" text-anchor="end" font-weight="normal" fill="#111">12</text>
<line x1="391.60" y1="262.06" x2="394.10" y2="262.06" stroke="#555" stroke-width="1"/>
<text x="388.30" y="265.46" font-size="10" text-anchor="end" font-weight="normal" fill="#111">14</text>
<line x1="433.80" y1="439.30" x2="433.80" y2="441.80" stroke="#555" stroke-width="1"/>
<line x1="467.40" y1="439.30" x2="467.40" y2="441.80" stroke="#555" stroke-width="1"/>
<line x1="500.90" y1="439.30" x2="500.90" y2="441.80" stroke="#555" stroke-width="1"/>
<rect x="425.20" y="343.08" width="17.20" height="19.24" fill="#ffc0cb"/>
<line x1="433.80" y1="333.59" x2="433.80" y2="343.08" stroke="#363636" stroke-width="1.15"/>
<line x1="433.80" y1="362.33" x2="433.80" y2="386.13" stroke="#363636" stroke-width="1.15"/>
<line x1="429.50" y1="333.59" x2="438.10" y2="333.59" stroke="#363636" stroke-width="1.15"/>
<line x1="429.50" y1="386.13" x2="438.10" y2="386.13" stroke="#363636" stroke-width="1.15"/>
<line x1="425.20" y1="352.20" x2="442.40" y2="352.20" stroke="#111" stroke-width="1.6"/>
<circle cx="431.20" cy="333.50" r="1.15" fill="#ff0000"/>
<circle cx="430.80" cy="338.10" r="1.15" fill="#ff0000"/>
<circle cx="436.80" cy="336.10" r="1.15" fill="#ff0000"/>
<circle cx="437.30" cy="337.80" r="1.15" fill="#ff0000"/>
<circle cx="429.20" cy="344.40" r="1.15" fill="#ff0000"/>
<circle cx="432.90" cy="347.30" r="1.15" fill="#ff0000"/>
<circle cx="436.80" cy="351.90" r="1.15" fill="#ff0000"/>
<circle cx="432.10" cy="353.20" r="1.15" fill="#ff0000"/>
<circle cx="429.90" cy="357.20" r="1.15" fill="#ff0000"/>
<circle cx="434.70" cy="356.20" r="1.15" fill="#ff0000"/>
<circle cx="439.10" cy="362.80" r="1.15" fill="#ff0000"/>
<circle cx="440.00" cy="363.10" r="1.15" fill="#ff0000"/>
<circle cx="432.90" cy="365.70" r="1.15" fill="#ff0000"/>
<circle cx="432.90" cy="384.70" r="1.15" fill="#ff0000"/>
<circle cx="435.80" cy="386.50" r="1.15" fill="#ff0000"/>
<circle cx="433.70" cy="351.90" r="1.15" fill="#ff0000"/>
<rect x="458.80" y="338.15" width="17.20" height="15.07" fill="#808080"/>
<line x1="467.40" y1="307.00" x2="467.40" y2="338.15" stroke="#363636" stroke-width="1.15"/>
<line x1="467.40" y1="353.21" x2="467.40" y2="380.94" stroke="#363636" stroke-width="1.15"/>
<line x1="463.10" y1="307.00" x2="471.70" y2="307.00" stroke="#363636" stroke-width="1.15"/>
<line x1="463.10" y1="380.94" x2="471.70" y2="380.94" stroke="#363636" stroke-width="1.15"/>
<line x1="458.80" y1="343.59" x2="476.00" y2="343.59" stroke="#111" stroke-width="1.6"/>
<circle cx="466.60" cy="306.80" r="1.15" fill="#ff0000"/>
<circle cx="465.70" cy="317.10" r="1.15" fill="#ff0000"/>
<circle cx="470.60" cy="335.50" r="1.15" fill="#ff0000"/>
<circle cx="471.90" cy="338.10" r="1.15" fill="#ff0000"/>
<circle cx="466.90" cy="339.40" r="1.15" fill="#ff0000"/>
<circle cx="471.00" cy="340.50" r="1.15" fill="#ff0000"/>
<circle cx="465.30" cy="344.00" r="1.15" fill="#ff0000"/>
<circle cx="462.70" cy="350.20" r="1.15" fill="#ff0000"/>
<circle cx="467.30" cy="351.90" r="1.15" fill="#ff0000"/>
<circle cx="468.00" cy="353.20" r="1.15" fill="#ff0000"/>
<circle cx="466.20" cy="355.80" r="1.15" fill="#ff0000"/>
<circle cx="464.00" cy="363.10" r="1.15" fill="#ff0000"/>
<circle cx="465.70" cy="380.80" r="1.15" fill="#ff0000"/>
<rect x="492.30" y="348.40" width="17.20" height="17.85" fill="#808080"/>
<line x1="500.90" y1="333.59" x2="500.90" y2="348.40" stroke="#6a6a6a" stroke-width="1.15"/>
<line x1="500.90" y1="366.25" x2="500.90" y2="377.39" stroke="#6a6a6a" stroke-width="1.15"/>
<line x1="496.60" y1="333.59" x2="505.20" y2="333.59" stroke="#6a6a6a" stroke-width="1.15"/>
<line x1="496.60" y1="377.39" x2="505.20" y2="377.39" stroke="#6a6a6a" stroke-width="1.15"/>
<line x1="492.30" y1="352.45" x2="509.50" y2="352.45" stroke="#111" stroke-width="1.6"/>
<circle cx="500.80" cy="333.50" r="1.15" fill="#ff0000"/>
<circle cx="504.50" cy="336.50" r="1.15" fill="#ff0000"/>
<circle cx="498.40" cy="346.90" r="1.15" fill="#ff0000"/>
<circle cx="503.40" cy="346.90" r="1.15" fill="#ff0000"/>
<circle cx="500.80" cy="351.20" r="1.15" fill="#ff0000"/>
<circle cx="503.00" cy="352.80" r="1.15" fill="#ff0000"/>
<circle cx="507.40" cy="352.80" r="1.15" fill="#ff0000"/>
<circle cx="496.90" cy="356.20" r="1.15" fill="#ff0000"/>
<circle cx="501.20" cy="362.00" r="1.15" fill="#ff0000"/>
<circle cx="505.40" cy="364.10" r="1.15" fill="#ff0000"/>
<circle cx="497.50" cy="367.70" r="1.15" fill="#ff0000"/>
<circle cx="504.40" cy="371.60" r="1.15" fill="#ff0000"/>
<circle cx="500.10" cy="373.60" r="1.15" fill="#ff0000"/>
<circle cx="499.90" cy="376.90" r="1.15" fill="#ff0000"/>
<circle cx="501.70" cy="351.90" r="1.15" fill="#ff0000"/>
<path d="M433.80 269.96 V267.76 H500.90 V269.96" fill="none" stroke="#111" stroke-width="1.2"/>
<line x1="467.40" y1="267.76" x2="467.40" y2="269.96" stroke="#111" stroke-width="1.2"/>
<text x="467.35" y="264.96" font-size="10" text-anchor="middle" font-weight="normal" fill="#111">ns</text>
<text x="458.60" y="244.50" font-size="10" text-anchor="middle" font-weight="normal" fill="#111">F - F</text>
<text x="361.30" y="345.20" font-size="10.35" text-anchor="middle" font-weight="normal" fill="#111" transform="rotate(-90 361.3 345.2)">Fly Pair Distance</text>
<text x="373.70" y="343.90" font-size="10.2" text-anchor="middle" font-weight="normal" fill="#111" transform="rotate(-90 373.7 343.9)">mm</text>
<line x1="550.40" y1="249.40" x2="550.40" y2="439.80" stroke="#555" stroke-width="1"/>
<line x1="549.90" y1="439.30" x2="680.40" y2="439.30" stroke="#555" stroke-width="1"/>
<line x1="547.90" y1="413.98" x2="550.40" y2="413.98" stroke="#555" stroke-width="1"/>
<text x="544.60" y="417.38" font-size="10" text-anchor="end" font-weight="normal" fill="#111">2</text>
<line x1="547.90" y1="388.66" x2="550.40" y2="388.66" stroke="#555" stroke-width="1"/>
<text x="544.60" y="392.06" font-size="10" text-anchor="end" font-weight="normal" fill="#111">4</text>
<line x1="547.90" y1="363.34" x2="550.40" y2="363.34" stroke="#555" stroke-width="1"/>
<text x="544.60" y="366.74" font-size="10" text-anchor="end" font-weight="normal" fill="#111">6</text>
<line x1="547.90" y1="338.02" x2="550.40" y2="338.02" stroke="#555" stroke-width="1"/>
<text x="544.60" y="341.42" font-size="10" text-anchor="end" font-weight="normal" fill="#111">8</text>
<line x1="547.90" y1="312.70" x2="550.40" y2="312.70" stroke="#555" stroke-width="1"/>
<text x="544.60" y="316.10" font-size="10" text-anchor="end" font-weight="normal" fill="#111">10</text>
<line x1="547.90" y1="287.38" x2="550.40" y2="287.38" stroke="#555" stroke-width="1"/>
<text x="544.60" y="290.78" font-size="10" text-anchor="end" font-weight="normal" fill="#111">12</text>
<line x1="547.90" y1="262.06" x2="550.40" y2="262.06" stroke="#555" stroke-width="1"/>
<text x="544.60" y="265.46" font-size="10" text-anchor="end" font-weight="normal" fill="#111">14</text>
<line x1="590.10" y1="439.30" x2="590.10" y2="441.80" stroke="#555" stroke-width="1"/>
<line x1="623.70" y1="439.30" x2="623.70" y2="441.80" stroke="#555" stroke-width="1"/>
<line x1="657.20" y1="439.30" x2="657.20" y2="441.80" stroke="#555" stroke-width="1"/>
<rect x="581.50" y="365.87" width="17.20" height="15.95" fill="#87ceeb"/>
<line x1="590.10" y1="362.33" x2="590.10" y2="365.87" stroke="#363636" stroke-width="1.15"/>
<line x1="590.10" y1="381.82" x2="590.10" y2="393.34" stroke="#363636" stroke-width="1.15"/>
<line x1="585.80" y1="362.33" x2="594.40" y2="362.33" stroke="#363636" stroke-width="1.15"/>
<line x1="585.80" y1="393.34" x2="594.40" y2="393.34" stroke="#363636" stroke-width="1.15"/>
<line x1="581.50" y1="370.94" x2="598.70" y2="370.94" stroke="#111" stroke-width="1.6"/>
<circle cx="587.80" cy="362.60" r="1.15" fill="#0000ff"/>
<circle cx="591.10" cy="362.60" r="1.15" fill="#0000ff"/>
<circle cx="589.30" cy="364.50" r="1.15" fill="#0000ff"/>
<circle cx="588.40" cy="367.40" r="1.15" fill="#0000ff"/>
<circle cx="590.30" cy="366.70" r="1.15" fill="#0000ff"/>
<circle cx="593.20" cy="367.40" r="1.15" fill="#0000ff"/>
<circle cx="589.60" cy="371.10" r="1.15" fill="#0000ff"/>
<circle cx="588.40" cy="381.60" r="1.15" fill="#0000ff"/>
<circle cx="589.60" cy="381.30" r="1.15" fill="#0000ff"/>
<circle cx="592.80" cy="383.10" r="1.15" fill="#0000ff"/>
<circle cx="594.70" cy="378.40" r="1.15" fill="#0000ff"/>
<circle cx="591.40" cy="386.40" r="1.15" fill="#0000ff"/>
<circle cx="588.90" cy="393.30" r="1.15" fill="#0000ff"/>
<rect x="615.10" y="345.24" width="17.20" height="15.57" fill="#808080"/>
<line x1="623.70" y1="327.39" x2="623.70" y2="345.24" stroke="#363636" stroke-width="1.15"/>
<line x1="623.70" y1="360.81" x2="623.70" y2="383.47" stroke="#363636" stroke-width="1.15"/>
<line x1="619.40" y1="327.39" x2="628.00" y2="327.39" stroke="#363636" stroke-width="1.15"/>
<line x1="619.40" y1="383.47" x2="628.00" y2="383.47" stroke="#363636" stroke-width="1.15"/>
<line x1="615.10" y1="351.19" x2="632.30" y2="351.19" stroke="#111" stroke-width="1.6"/>
<circle cx="623.50" cy="327.60" r="1.15" fill="#0000ff"/>
<circle cx="625.00" cy="340.40" r="1.15" fill="#0000ff"/>
<circle cx="621.00" cy="346.00" r="1.15" fill="#0000ff"/>
<circle cx="622.40" cy="347.00" r="1.15" fill="#0000ff"/>
<circle cx="625.40" cy="344.50" r="1.15" fill="#0000ff"/>
<circle cx="621.70" cy="348.00" r="1.15" fill="#0000ff"/>
<circle cx="624.30" cy="354.30" r="1.15" fill="#0000ff"/>
<circle cx="623.20" cy="355.00" r="1.15" fill="#0000ff"/>
<circle cx="621.70" cy="360.60" r="1.15" fill="#0000ff"/>
<circle cx="625.40" cy="359.70" r="1.15" fill="#0000ff"/>
<circle cx="625.80" cy="371.80" r="1.15" fill="#0000ff"/>
<circle cx="621.70" cy="380.10" r="1.15" fill="#0000ff"/>
<circle cx="621.00" cy="383.50" r="1.15" fill="#0000ff"/>
<circle cx="623.90" cy="348.50" r="1.15" fill="#0000ff"/>
<rect x="648.60" y="352.58" width="17.20" height="12.66" fill="#808080"/>
<line x1="657.20" y1="338.27" x2="657.20" y2="352.58" stroke="#363636" stroke-width="1.15"/>
<line x1="657.20" y1="365.24" x2="657.20" y2="372.84" stroke="#363636" stroke-width="1.15"/>
<line x1="652.90" y1="338.27" x2="661.50" y2="338.27" stroke="#363636" stroke-width="1.15"/>
<line x1="652.90" y1="372.84" x2="661.50" y2="372.84" stroke="#363636" stroke-width="1.15"/>
<line x1="648.60" y1="360.05" x2="665.80" y2="360.05" stroke="#111" stroke-width="1.6"/>
<circle cx="658.50" cy="338.20" r="1.15" fill="#0000ff"/>
<circle cx="664.80" cy="345.10" r="1.15" fill="#0000ff"/>
<circle cx="657.50" cy="347.40" r="1.15" fill="#0000ff"/>
<circle cx="656.50" cy="350.70" r="1.15" fill="#0000ff"/>
<circle cx="658.20" cy="355.30" r="1.15" fill="#0000ff"/>
<circle cx="655.00" cy="358.20" r="1.15" fill="#0000ff"/>
<circle cx="658.90" cy="359.10" r="1.15" fill="#0000ff"/>
<circle cx="660.80" cy="361.20" r="1.15" fill="#0000ff"/>
<circle cx="656.80" cy="360.10" r="1.15" fill="#0000ff"/>
<circle cx="657.50" cy="365.50" r="1.15" fill="#0000ff"/>
<circle cx="656.80" cy="366.40" r="1.15" fill="#0000ff"/>
<circle cx="655.00" cy="372.60" r="1.15" fill="#0000ff"/>
<circle cx="658.90" cy="372.80" r="1.15" fill="#0000ff"/>
<circle cx="657.50" cy="371.80" r="1.15" fill="#0000ff"/>
<circle cx="659.70" cy="359.10" r="1.15" fill="#0000ff"/>
<path d="M590.10 282.62 V280.42 H657.20 V282.62" fill="none" stroke="#111" stroke-width="1.2"/>
<text x="623.65" y="280.02" font-size="9.8" text-anchor="middle" font-weight="normal" fill="#111">*</text>
<path d="M590.10 295.91 V293.71 H623.70 V295.91" fill="none" stroke="#111" stroke-width="1.2"/>
<text x="606.90" y="293.31" font-size="9.8" text-anchor="middle" font-weight="normal" fill="#111">**</text>
<path d="M623.70 308.82 V306.62 H657.20 V308.82" fill="none" stroke="#111" stroke-width="1.2"/>
<text x="640.45" y="303.82" font-size="10" text-anchor="middle" font-weight="normal" fill="#111">ns</text>
<text x="615.20" y="244.50" font-size="10" text-anchor="middle" font-weight="normal" fill="#111">M - M</text>
<text x="530.20" y="343.90" font-size="10.2" text-anchor="middle" font-weight="normal" fill="#111" transform="rotate(-90 530.2 343.9)">mm</text>
<text x="394.50" y="450.80" font-size="10.2" text-anchor="middle" font-weight="normal" fill="#111">R72A10-GAL4</text>
<text x="433.80" y="450.80" font-size="10.2" text-anchor="middle" font-weight="normal" fill="#111">+</text>
<text x="467.40" y="450.80" font-size="10.2" text-anchor="middle" font-weight="normal" fill="#111">+</text>
<text x="500.90" y="450.80" font-size="10.2" text-anchor="middle" font-weight="normal" fill="#111">-</text>
<text x="394.50" y="462.20" font-size="10.2" text-anchor="middle" font-weight="normal" fill="#111">UAS-dTRPA1</text>
<text x="433.80" y="462.20" font-size="10.2" text-anchor="middle" font-weight="normal" fill="#111">+</text>
<text x="467.40" y="462.20" font-size="10.2" text-anchor="middle" font-weight="normal" fill="#111">-</text>
<text x="500.90" y="462.20" font-size="10.2" text-anchor="middle" font-weight="normal" fill="#111">+</text>
<text x="394.50" y="473.80" font-size="10.2" text-anchor="middle" font-weight="normal" fill="#111">n =</text>
<text x="433.80" y="473.80" font-size="10.2" text-anchor="middle" font-weight="normal" fill="#111">16</text>
<text x="467.40" y="473.80" font-size="10.2" text-anchor="middle" font-weight="normal" fill="#111">13</text>
<text x="500.90" y="473.80" font-size="10.2" text-anchor="middle" font-weight="normal" fill="#111">15</text>
<text x="590.10" y="450.80" font-size="10.2" text-anchor="middle" font-weight="normal" fill="#111">+</text>
<text x="623.70" y="450.80" font-size="10.2" text-anchor="middle" font-weight="normal" fill="#111">+</text>
<text x="657.20" y="450.80" font-size="10.2" text-anchor="middle" font-weight="normal" fill="#111">-</text>
<text x="590.10" y="462.20" font-size="10.2" text-anchor="middle" font-weight="normal" fill="#111">+</text>
<text x="623.70" y="462.20" font-size="10.2" text-anchor="middle" font-weight="normal" fill="#111">-</text>
<text x="657.20" y="462.20" font-size="10.2" text-anchor="middle" font-weight="normal" fill="#111">+</text>
<text x="590.10" y="473.80" font-size="10.2" text-anchor="middle" font-weight="normal" fill="#111">13</text>
<text x="623.70" y="473.80" font-size="10.2" text-anchor="middle" font-weight="normal" fill="#111">14</text>
<text x="657.20" y="473.80" font-size="10.2" text-anchor="middle" font-weight="normal" fill="#111">15</text>
<text x="9.50" y="496.50" font-size="10.5" text-anchor="middle" font-weight="bold" fill="#111">c</text>
<path d="M54.9 572.4 L57.5 540.9 L59.6 572.4 L61.8 528.6 L63.9 572.4 L65.7 565.4 L66.8 563.7 L67.8 565.4 L68.6 561.9 L71.3 513.4 L75.0 565.4 L77.4 567.8 L80.3 568.9 L82.0 567.8 L83.2 570.7 L84.6 566.6 L86.1 572.4 L87.9 576.5 L89.0 570.1 L90.8 568.9 L92.0 566.6 L94.1 557.2 L95.5 558.4 L97.0 572.4 L99.0 573.0 L100.5 572.4 L101.3 575.9 L103.1 560.7 L105.2 555.5 L106.6 561.9 L108.3 577.1 L110.1 567.8 L112.4 565.4 L114.5 553.7 L115.7 568.3 L117.6 557.2 L119.4 576.5 L121.7 553.7 L123.3 570.1 L124.7 571.3 L126.2 570.1 L128.7 514.0 L131.1 561.9 L131.5 570.7 L132.9 573.6 L134.4 567.8 L135.8 575.1 L137.3 563.4 L139.1 559.7 L140.2 576.5 L141.7 567.8 L143.1 564.8 L144.6 573.6 L146.1 569.2 L147.5 572.1 L149.0 569.9 L150.4 567.8 L151.9 564.8 L153.6 520.3 L155.5 537.1 L157.7 570.7 L158.5 556.1 L159.9 573.6 L161.4 563.4 L162.8 553.2 L164.3 569.2 L165.8 575.1 L167.2 561.9 L169.1 554.6 L170.1 573.6 L171.6 570.7 L173.1 573.6 L175.3 553.2 L176.7 575.1 L178.2 567.8 L179.6 566.3 L181.1 573.6 L182.6 570.7 L184.0 569.2 L185.5 570.7 L186.9 569.9 L188.4 572.1 L189.9 575.1 L191.3 569.2 L192.8 567.8 L194.2 547.3 L196.0 534.9 L197.2 570.7 L198.6 576.5 L200.1 565.6 L201.2 556.8 L202.3 567.8 L203.7 567.8 L205.9 572.1 L207.4 563.4 L208.8 559.0 L210.3 563.4 L211.8 567.8 L213.2 563.4 L214.7 573.6 L216.1 570.7 L217.6 579.4 L219.1 570.7 L221.2 560.5 L222.7 557.5 L224.2 570.7 L226.4 573.6 L227.8 573.6 L227.9 569.9 L229.4 573.6 L230.8 571.4 L232.3 576.5 L233.0 556.1 L234.1 513.0 L235.2 567.8 L236.7 554.6 L238.1 532.0 L239.6 551.7 L241.1 567.8 L241.8 570.7 L243.2 563.4 L244.0 551.7 L245.1 561.9 L246.2 570.7 L247.2 541.5 L248.4 572.1 L249.1 554.6 L250.1 566.3 L251.3 554.6 L252.4 537.1 L253.5 548.8 L254.9 550.2 L255.9 572.1 L256.8 560.5 L257.8 557.5 L259.3 556.1 L260.8 550.2 L261.8 569.2 L262.7 560.5 L263.7 567.8 L265.1 534.2 L266.2 564.8 L267.0 569.9 L268.1 547.3 L269.1 561.9 L270.3 572.1 L271.4 573.6 L272.4 567.8 L273.5 556.1 L274.6 567.8 L275.8 570.7 L276.8 578.0 L277.8 576.5 L279.0 567.8 L280.2 576.5 L281.2 569.2 L282.2 563.4 L283.4 559.0 L284.9 560.5 L286.3 564.8 L287.8 559.0 L289.2 564.8 L290.7 561.9 L291.9 567.8 L292.9 573.6 L294.3 575.1 L295.1 567.8 L296.5 573.6 L297.6 578.0 L298.7 570.7 L300.2 567.8 L301.6 573.6 L303.1 567.8 L304.6 573.6 L305.6 567.8 L306.8 554.6 L307.9 559.0 L308.9 572.1 L310.1 566.3 L311.9 559.0 L313.3 570.7 L314.8 573.6 L316.2 567.8 L317.0 553.2 L318.1 567.8 L319.2 548.8 L320.6 544.4 L321.6 573.6 L322.8 547.3 L324.0 544.4 L324.1 544.4 L325.1 567.8 L326.1 570.7 L327.3 566.3 L328.5 575.1 L329.9 567.8 L331.7 564.8 L333.1 557.5 L334.3 547.3 L335.3 542.2 L336.4 556.1 L337.2 559.0 L338.2 554.6 L339.3 563.4 L340.1 556.1 L341.2 559.0 L341.9 556.1 L343.1 567.8 L344.5 567.8 L346.0 573.6 L347.4 567.8 L348.5 576.5 L349.9 567.8 L350.9 556.1 L351.8 548.8 L352.8 570.7 L353.9 567.8 L355.0 573.6 L356.2 570.7 L357.2 557.5 L358.2 576.5 L359.4 578.0 L360.9 575.1 L362.3 567.8 L363.5 541.5 L364.5 547.3 L365.5 541.5 L366.7 550.2 L367.9 528.3 L368.9 548.8 L369.9 563.4 L371.1 544.4 L372.3 536.4 L373.3 556.1 L374.3 570.7 L375.5 559.0 L376.9 551.0 L378.1 561.9 L379.1 553.2 L380.1 567.8 L381.3 551.7 L382.5 564.8 L383.5 556.1 L385.0 567.8 L386.4 557.5 L387.4 575.1 L388.6 567.8 L389.8 559.0 L390.9 549.5 L392.3 556.1 L393.3 567.8 L394.5 547.3 L395.2 532.4 L396.2 564.8 L397.4 573.6 L398.8 570.7 L400.0 567.8 L401.0 573.6 L402.5 570.7 L403.9 561.9 L405.4 537.1 L406.4 536.4 L407.6 550.2 L408.3 528.3 L409.3 524.7 L410.5 544.4 L412.0 564.8 L413.4 573.6 L414.9 567.8 L416.4 573.6 L417.5 523.2 L418.7 541.5 L419.7 561.9 L420.8 570.7 L422.0 573.6 L423.0 576.5 L424.1 573.6 L425.5 573.6 L427.0 572.1 L428.4 570.7 L429.6 567.8 L430.3 564.8 L431.4 566.3 L432.5 565.6 L433.7 572.1 L435.1 573.6 L436.2 572.9 L436.9 567.8 L438.1 557.5 L439.2 542.2 L440.1 556.1 L441.3 564.8 L442.7 565.6 L444.2 566.3 L445.7 565.6 L447.4 564.8 L448.6 564.8 L449.7 559.0 L450.8 573.6 L451.8 567.8 L453.0 569.9 L454.1 569.2 L455.1 565.6 L455.9 557.5 L457.0 564.8 L458.1 567.8 L459.1 570.7 L460.3 567.8 L461.4 569.9 L462.4 570.7 L463.5 567.8 L464.6 569.2 L465.8 567.0 L466.8 573.6 L467.8 557.5 L469.0 556.1 L470.2 551.7 L471.2 532.7 L472.2 521.8 L473.4 526.9 L474.1 556.1 L474.9 572.1 L476.3 570.7 L477.8 564.8 L478.9 550.2 L480.0 524.0 L481.0 522.5 L482.2 547.3 L482.9 567.8 L483.9 561.9 L485.1 573.6 L486.2 573.6 L487.3 570.7 L488.7 569.2 L490.2 559.0 L491.2 541.5 L492.1 531.3 L493.1 550.2 L494.1 563.4 L495.3 572.1 L496.0 573.6 L496.8 559.0 L497.9 558.3 L498.9 567.8 L500.0 567.8 L501.1 564.8 L502.3 569.2 L503.3 564.8 L504.8 567.8 L506.2 565.6 L507.3 567.8 L508.4 564.8 L509.6 570.7 L510.6 573.6 L511.6 567.8 L512.8 570.7 L514.0 564.8 L514.4 572.1 L515.5 567.8 L516.6 573.6 L517.6 563.4 L518.8 569.2 L519.9 572.1 L520.9 567.8 L522.0 573.6 L523.1 556.1 L523.9 552.4 L524.6 564.8 L525.8 573.6 L526.8 567.8 L527.8 573.6 L529.0 552.4 L530.1 567.8 L531.2 573.6 L531.9 567.8 L532.6 578.0 L533.6 569.2 L534.8 572.1 L536.0 570.7 L537.0 573.6 L538.5 570.7 L539.9 567.8 L540.7 557.5 L541.4 548.8 L542.4 567.8 L543.6 567.8 L545.0 569.2 L546.5 570.7 L547.7 564.8 L548.7 573.6 L549.7 554.6 L550.9 535.6 L551.9 531.3 L552.9 532.7 L553.8 554.6 L555.0 570.7 L556.0 564.8 L556.7 557.5 L557.9 561.9 L558.9 567.8 L559.9 567.8 L561.1 556.1 L562.0 553.2 L562.8 566.3 L564.0 570.7 L565.5 569.2 L566.9 569.9 L568.1 569.2 L569.1 564.8 L570.1 566.3 L571.3 570.7 L572.0 551.7 L573.1 521.8 L573.9 522.5 L575.0 551.7 L576.0 566.3 L577.2 570.7 L578.3 563.4 L579.8 575.1 L580.8 561.9 L581.5 535.6 L582.6 507.9 L583.7 551.7 L584.7 567.8 L585.9 570.7 L587.4 567.8 L588.8 573.6 L590.0 564.8 L591.0 569.2 L592.5 570.7 L593.9 561.9 L595.0 567.8 L596.1 567.8 L597.6 573.6 L599.1 567.8 L600.5 564.8 L602.0 560.5 L603.1 536.4 L604.2 556.1 L605.2 567.8 L606.4 573.6 L607.8 567.8 L609.3 564.8 L610.5 576.7 L611.4 564.8 L612.3 559.6 L613.4 539.9 L614.4 562.2 L615.4 570.1 L616.3 564.8 L617.3 566.1 L618.4 559.6 L619.3 558.3 L620.2 562.2 L621.0 575.3 L621.9 567.5 L622.9 564.8 L623.9 570.1 L625.0 572.7 L625.9 567.5 L627.2 568.8 L628.5 567.5 L629.4 559.6 L630.2 550.4 L631.1 564.8 L632.1 576.7 L633.1 564.8 L634.2 549.1 L635.1 559.6 L636.0 564.8 L637.0 570.1 L638.4 567.5 L639.4 554.3 L640.3 556.9 L641.2 562.2 L642.3 564.8 L643.4 566.1 L644.3 563.5 L645.6 567.5 L646.5 570.1 L647.6 576.7 L648.6 567.5 L649.5 549.1 L650.4 520.8 L651.5 522.1 L652.5 545.1 L653.5 567.5 L654.8 556.9 L655.7 559.6 L656.8 567.5 L657.8 564.8 L659.1 570.1 L660.0 534.6 L661.0 521.5 L662.0 545.1 L663.1 530.7 L664.4 534.6 L665.3 545.1 L665.9 567.5 L667.3 572.7 L668.3 564.8 L669.2 560.9 L670.5 567.5 L671.9 571.4 L672.8 572.7" fill="none" stroke="#87ceeb" stroke-width="1.7" stroke-linejoin="round"/>
<line x1="80.30" y1="490.22" x2="80.30" y2="579.30" stroke="#2a2aff" stroke-width="1.3"/>
<line x1="198.00" y1="490.22" x2="198.00" y2="579.30" stroke="#2a2aff" stroke-width="1.2"/>
<line x1="215.70" y1="490.22" x2="215.70" y2="579.30" stroke="#2a2aff" stroke-width="1.2"/>
<line x1="222.00" y1="490.22" x2="222.00" y2="579.30" stroke="#2a2aff" stroke-width="1.2"/>
<line x1="224.20" y1="490.22" x2="224.20" y2="579.30" stroke="#2a2aff" stroke-width="1.2"/>
<line x1="276.10" y1="490.22" x2="276.10" y2="579.30" stroke="#a8a8ff" stroke-width="1.3"/>
<line x1="283.40" y1="490.22" x2="283.40" y2="579.30" stroke="#2a2aff" stroke-width="1.1"/>
<line x1="288.40" y1="490.22" x2="288.40" y2="579.30" stroke="#2a2aff" stroke-width="1.1"/>
<line x1="308.60" y1="490.22" x2="308.60" y2="579.30" stroke="#2a2aff" stroke-width="1.3"/>
<line x1="325.50" y1="490.22" x2="325.50" y2="579.30" stroke="#2a2aff" stroke-width="1.2"/>
<line x1="328.50" y1="490.22" x2="328.50" y2="579.30" stroke="#2a2aff" stroke-width="1.2"/>
<line x1="347.40" y1="490.22" x2="347.40" y2="579.30" stroke="#2a2aff" stroke-width="1.2"/>
<line x1="363.40" y1="490.22" x2="363.40" y2="579.30" stroke="#2a2aff" stroke-width="1.2"/>
<line x1="383.40" y1="490.22" x2="383.40" y2="579.30" stroke="#2a2aff" stroke-width="1.2"/>
<line x1="421.10" y1="490.22" x2="421.10" y2="579.30" stroke="#2a2aff" stroke-width="1.2"/>
<line x1="442.40" y1="490.22" x2="442.40" y2="579.30" stroke="#2a2aff" stroke-width="0.9"/>
<line x1="445.60" y1="490.22" x2="445.60" y2="579.30" stroke="#0000ff" stroke-width="3.6"/>
<line x1="450.80" y1="490.22" x2="450.80" y2="579.30" stroke="#2a2aff" stroke-width="1.2"/>
<line x1="460.50" y1="490.22" x2="460.50" y2="579.30" stroke="#2a2aff" stroke-width="1.2"/>
<line x1="485.10" y1="490.22" x2="485.10" y2="579.30" stroke="#2a2aff" stroke-width="1.3"/>
<line x1="507.30" y1="490.22" x2="507.30" y2="579.30" stroke="#2a2aff" stroke-width="1.2"/>
<line x1="517.60" y1="490.22" x2="517.60" y2="579.30" stroke="#2a2aff" stroke-width="1.2"/>
<line x1="519.90" y1="490.22" x2="519.90" y2="579.30" stroke="#2a2aff" stroke-width="1.2"/>
<line x1="548.40" y1="490.22" x2="548.40" y2="579.30" stroke="#2a2aff" stroke-width="0.9"/>
<line x1="576.90" y1="490.22" x2="576.90" y2="579.30" stroke="#2a2aff" stroke-width="1.3"/>
<line x1="585.60" y1="490.22" x2="585.60" y2="579.30" stroke="#2a2aff" stroke-width="1.5"/>
<line x1="589.60" y1="490.22" x2="589.60" y2="579.30" stroke="#2a2aff" stroke-width="1.2"/>
<line x1="606.80" y1="490.22" x2="606.80" y2="579.30" stroke="#2a2aff" stroke-width="1.6"/>
<line x1="611.00" y1="490.22" x2="611.00" y2="579.30" stroke="#2a2aff" stroke-width="1.3"/>
<line x1="622.60" y1="490.22" x2="622.60" y2="579.30" stroke="#2a2aff" stroke-width="1.3"/>
<line x1="624.20" y1="490.22" x2="624.20" y2="579.30" stroke="#2a2aff" stroke-width="1.3"/>
<line x1="645.60" y1="490.22" x2="645.60" y2="579.30" stroke="#2a2aff" stroke-width="0.9"/>
<line x1="669.20" y1="490.22" x2="669.20" y2="579.30" stroke="#2a2aff" stroke-width="1.3"/>
<line x1="54.50" y1="563.58" x2="672.80" y2="563.58" stroke="#0000ff" stroke-width="1.3" stroke-dasharray="4.2 2.6"/>
<line x1="54.50" y1="490.22" x2="54.50" y2="579.80" stroke="#333" stroke-width="1"/>
<line x1="54.00" y1="579.30" x2="673.30" y2="579.30" stroke="#333" stroke-width="1"/>
<line x1="52.50" y1="579.30" x2="54.50" y2="579.30" stroke="#333" stroke-width="1"/>
<text x="0" y="0" font-size="8.3" text-anchor="end" fill="#111" transform="translate(49.70 582.10) scale(0.86 1)">0</text>
<line x1="52.50" y1="553.10" x2="54.50" y2="553.10" stroke="#333" stroke-width="1"/>
<text x="0" y="0" font-size="8.3" text-anchor="end" fill="#111" transform="translate(49.70 555.90) scale(0.86 1)">5</text>
<line x1="52.50" y1="526.90" x2="54.50" y2="526.90" stroke="#333" stroke-width="1"/>
<text x="0" y="0" font-size="8.3" text-anchor="end" fill="#111" transform="translate(49.70 529.70) scale(0.86 1)">10</text>
<line x1="52.50" y1="500.70" x2="54.50" y2="500.70" stroke="#333" stroke-width="1"/>
<text x="0" y="0" font-size="8.3" text-anchor="end" fill="#111" transform="translate(49.70 503.50) scale(0.86 1)">15</text>
<text x="0" y="0" font-size="9.5" text-anchor="middle" fill="#111" transform="translate(31.30 536.26) rotate(-90)">R72A10&gt;TRPA1</text>
<path d="M54.1 626.7 L54.9 626.7 L55.8 652.4 L56.6 672.2 L57.5 623.2 L58.7 614.4 L59.8 617.4 L61.0 619.7 L62.2 618.5 L63.9 612.7 L65.1 617.4 L65.7 629.0 L66.6 624.4 L67.4 640.7 L68.0 661.7 L68.9 666.4 L70.1 655.9 L70.9 664.1 L72.1 669.9 L73.3 666.4 L74.8 660.6 L75.6 648.9 L76.2 631.4 L77.1 648.9 L77.9 661.7 L79.1 668.7 L80.3 666.4 L81.4 664.1 L82.3 652.4 L83.2 657.1 L84.1 640.7 L84.6 634.9 L85.5 638.4 L86.5 623.2 L87.3 612.7 L88.5 615.0 L89.6 618.5 L90.4 617.4 L91.1 629.0 L91.6 648.9 L92.5 647.7 L93.5 620.9 L94.3 640.7 L94.9 659.4 L96.0 659.4 L97.4 659.4 L98.1 640.7 L99.0 646.6 L99.5 644.2 L100.5 648.9 L100.9 661.7 L101.9 650.1 L102.5 664.1 L103.6 671.1 L104.8 664.1 L106.0 633.7 L106.8 629.0 L107.5 620.9 L108.3 613.3 L109.1 623.2 L109.8 638.4 L110.4 648.9 L111.2 639.5 L111.8 644.2 L112.4 664.1 L113.0 633.7 L114.1 631.4 L115.3 630.2 L116.5 628.5 L117.3 640.7 L118.2 654.7 L119.2 665.2 L120.0 667.6 L120.8 675.8 L121.7 673.4 L122.7 655.9 L123.5 655.9 L124.7 668.7 L125.8 679.3 L127.0 655.9 L127.8 645.4 L128.7 664.1 L129.7 685.1 L130.5 682.8 L131.7 675.8 L132.2 674.3 L133.2 675.8 L134.4 672.8 L135.5 671.4 L137.0 643.6 L138.0 667.0 L139.1 682.3 L140.2 675.8 L141.7 659.7 L143.1 623.2 L144.3 617.4 L145.3 649.5 L146.4 672.8 L147.5 673.6 L149.0 674.3 L150.4 673.6 L151.9 675.0 L153.4 675.8 L154.8 677.2 L156.0 681.6 L157.2 686.0 L158.5 678.7 L159.5 652.4 L160.9 619.5 L161.8 649.5 L162.8 667.0 L163.9 667.7 L165.0 666.3 L166.5 667.0 L167.7 673.6 L168.7 672.8 L169.7 670.6 L170.9 671.4 L172.0 627.6 L173.1 664.1 L174.1 678.7 L175.3 686.0" fill="none" stroke="#808080" stroke-width="1.7" stroke-linejoin="round"/>
<path d="M180.4 676.5 L181.1 652.4 L182.3 632.0 L183.3 655.3 L184.3 668.5 L185.2 659.7 L185.9 625.4 L186.9 652.4 L188.1 673.6 L189.6 674.3 L190.6 673.6 L191.6 669.9 L192.8 683.1 L193.9 681.6 L195.0 680.1 L196.4 681.6 L197.4 686.0 L198.6 680.1 L199.8 675.8 L201.2 671.4 L202.3 670.6 L203.3 681.6 L204.5 675.8 L205.6 673.6 L206.6 675.8 L208.1 678.7 L209.1 681.6 L210.0 677.2" fill="none" stroke="#808080" stroke-width="1.7" stroke-linejoin="round"/>
<path d="M212.5 680.1 L213.2 678.7 L214.4 675.8 L215.8 673.6 L216.9 655.3 L217.9 636.3 L219.8 616.6 L221.2 637.8 L222.3 664.1 L223.4 677.2 L224.6 675.8 L225.6 672.8 L227.1 672.8 L228.5 674.3 L229.4 671.4 L230.8 652.4 L231.9 620.3 L233.0 664.1 L234.1 675.8 L235.5 675.8 L237.0 675.0 L238.1 672.8 L239.3 677.2 L240.8 675.0 L242.2 673.6 L243.7 672.8 L245.1 673.6 L246.6 675.8 L248.4 681.6 L249.8 677.2 L251.3 674.3 L252.7 669.9 L253.9 661.2 L254.9 659.7 L255.9 674.3 L256.8 655.3 L257.8 667.0 L258.9 677.2 L260.0 677.9 L261.2 675.8 L262.2 642.2 L263.0 619.5 L264.1 620.3 L265.1 665.5 L265.9 645.1 L266.9 664.1 L267.9 635.6 L268.8 652.4 L270.0 671.4 L271.0 637.8 L272.2 615.2 L273.2 629.0 L274.3 642.2 L275.4 630.5 L276.4 629.0 L277.6 623.2 L278.4 617.4 L279.3 616.6 L280.2 630.5 L281.2 637.8 L281.9 652.4 L283.1 658.2 L284.1 645.1 L285.1 644.4 L286.3 664.1 L287.5 675.8 L288.8 682.3 L290.0 675.8 L291.4 668.5 L292.9 652.4 L293.9 637.8 L294.8 630.5 L295.8 636.3 L296.8 615.9 L298.0 623.2 L299.2 649.5 L300.2 664.1 L301.2 674.3 L302.4 675.8 L303.8 678.7 L305.0 684.5 L306.0 659.7 L307.0 634.9 L308.5 611.5 L309.7 632.0 L311.1 656.8 L312.3 648.0 L313.3 649.5 L314.3 656.8 L315.5 655.3 L316.7 645.1 L317.7 649.5 L318.7 672.8 L320.2 674.3 L321.6 675.8 L323.1 674.3 L324.4 672.8 L325.8 671.4 L327.3 673.6 L328.8 672.8 L330.2 669.9 L331.7 669.2 L333.4 669.2 L335.3 669.6 L337.5 669.2 L338.7 671.4 L339.7 680.1 L340.4 667.0 L341.6 662.6 L342.6 652.4 L343.8 645.1 L344.8 652.4 L345.5 671.4 L346.6 640.7 L347.7 638.5 L348.9 642.2 L349.9 650.9 L350.9 648.0 L351.8 634.9 L352.8 632.0 L353.9 620.3 L355.0 626.1 L355.8 652.4 L356.5 661.2 L357.7 665.5 L358.2 667.0 L359.1 681.6" fill="none" stroke="#808080" stroke-width="1.7" stroke-linejoin="round"/>
<path d="M360.6 685.2 L362.6 686.0" fill="none" stroke="#808080" stroke-width="1.7" stroke-linejoin="round"/>
<path d="M364.5 683.8 L365.5 675.8 L366.4 671.4 L367.4 677.9 L368.5 675.8 L369.3 662.6 L370.4 661.9 L371.4 677.9 L372.3 661.2 L373.3 623.2 L374.5 611.5 L375.5 630.5 L376.6 664.1 L377.7 674.3 L378.7 669.9 L379.9 630.5 L380.7 618.8 L381.6 620.3 L382.8 652.4 L383.6 675.0 L384.5 661.2 L385.7 662.6 L386.9 658.2 L387.9 650.2 L388.9 664.1 L390.1 674.3 L391.1 652.4 L391.8 620.3 L393.0 621.7 L394.2 627.6 L395.2 628.3 L396.6 629.0 L398.1 626.8 L399.1 628.3 L400.0 637.8 L401.0 658.2 L402.0 669.9 L403.2 652.4 L404.4 623.2 L405.4 614.4 L406.4 637.8 L407.6 669.9 L408.8 664.1 L409.8 652.4 L410.8 623.2 L412.0 615.9 L413.1 669.9 L414.2 675.8 L415.2 677.9 L416.4 669.9 L417.5 665.5 L418.5 664.1 L419.4 662.6 L420.5 649.5 L421.6 623.2 L422.6 637.8 L423.8 665.5 L424.9 676.5 L425.9 658.2 L427.0 629.0 L427.8 630.5 L428.9 621.0 L429.9 624.7 L430.8 629.0 L431.8 622.5 L433.2 622.5 L434.7 621.0 L436.2 620.0 L437.6 620.0 L439.1 620.3 L441.0 621.7 L442.0 637.8 L443.0 655.3 L444.2 665.5 L444.9 656.8 L445.9 658.2 L447.1 659.7 L448.3 671.4 L449.3 672.1 L450.8 671.4 L451.8 661.2 L452.7 634.9 L453.7 659.7 L454.7 669.9 L455.9 678.7 L457.0 681.6 L458.1 655.3 L459.1 642.2 L460.3 632.0 L461.1 624.7 L462.0 645.1 L463.2 664.1 L464.2 637.8 L465.4 620.3 L466.4 619.5 L467.3 616.6 L468.3 624.7 L469.3 645.1 L470.2 677.2 L471.6 681.6 L472.7 675.8 L473.4 683.1 L474.1 662.6 L475.1 640.7 L476.0 614.4 L477.0 642.2 L477.8 664.1 L478.9 630.5 L479.7 610.1 L480.7 618.8 L481.9 633.4 L482.9 655.3 L483.9 671.4 L484.8 682.3 L485.8 656.8 L486.8 619.5 L488.0 618.8 L489.2 619.5 L490.2 620.3 L491.2 629.0 L492.4 630.5 L493.5 634.9 L494.3 648.0 L495.3 646.6 L496.0 623.2 L497.0 621.0 L497.9 664.1 L498.9 637.8 L500.0 628.3 L501.1 652.4 L502.3 669.9 L503.3 659.7 L504.1 628.3 L505.2 669.9 L506.2 634.9 L507.3 664.1 L508.4 674.3 L509.6 677.2 L510.6 678.7 L511.6 675.0 L512.8 681.6 L514.0 677.2 L514.7 676.5 L516.6 675.8 L518.0 668.5 L519.1 668.5 L520.2 671.4 L521.7 675.0 L522.8 671.4 L524.3 669.2 L525.8 669.9 L527.5 669.9 L529.0 675.0 L530.1 655.3 L531.2 637.8 L532.2 656.8 L533.1 678.4 L534.1 656.8 L535.1 637.8 L536.3 626.1 L537.4 632.0 L538.5 655.3 L539.5 667.0 L540.7 666.3 L542.1 665.5 L543.3 640.7 L544.3 642.2 L545.3 661.2 L546.5 673.6 L547.7 672.8 L548.7 674.3 L549.7 677.2 L550.9 675.8 L551.6 655.3 L552.6 678.7 L553.8 640.7 L554.7 659.7 L555.5 667.0 L556.7 665.5 L557.9 671.4 L558.9 673.6 L560.4 674.0 L562.6 673.6 L564.7 674.3 L566.9 674.3 L569.1 673.6 L571.3 673.6 L573.5 673.6 L575.7 674.0 L577.9 673.6 L579.3 669.6 L580.4 669.9 L581.8 670.6 L583.3 670.6 L584.7 670.6 L585.9 672.1 L587.1 669.9 L588.1 659.7 L589.1 656.8 L590.3 662.6 L591.0 650.9 L592.0 661.2 L593.2 674.3 L594.7 675.0 L596.1 674.3 L597.6 672.8 L598.8 655.3 L599.8 623.2 L600.8 616.6 L601.7 617.4 L602.7 637.8 L603.7 639.3 L604.9 649.5 L606.1 655.3 L607.1 669.9 L608.1 678.7 L609.3 681.6 L609.5 675.5 L610.5 683.3 L611.4 678.1 L612.3 667.6 L613.4 664.9 L614.7 661.0 L615.8 654.4 L616.7 646.6 L617.6 650.5 L618.6 651.8 L619.4 686.0 L620.0 654.4 L621.0 654.4 L621.9 653.1 L622.9 637.4 L623.9 625.5 L625.2 622.2 L626.5 622.2 L627.8 615.0 L628.9 621.6 L629.8 628.2 L630.7 640.0 L631.8 657.1 L633.1 672.8 L634.2 679.4 L635.2 684.7 L636.4 675.5 L637.0 658.4 L638.1 678.1 L639.0 651.8 L639.9 653.1 L641.0 668.9 L641.6 681.4" fill="none" stroke="#808080" stroke-width="1.7" stroke-linejoin="round"/>
<path d="M645.2 684.7 L646.9 682.0 L648.2 675.5 L649.5 657.1 L650.8 633.4 L651.8 625.5 L653.1 628.2 L654.1 646.6 L655.2 664.9 L656.1 672.8 L657.4 672.8 L658.7 672.2 L660.0 670.9 L662.0 670.9 L662.9 657.1 L664.0 640.0 L664.9 653.1 L665.9 665.6 L667.0 646.6 L667.9 636.0 L669.2 638.7 L670.2 659.7 L671.2 666.3 L672.5 667.6" fill="none" stroke="#808080" stroke-width="1.7" stroke-linejoin="round"/>
<line x1="223.10" y1="597.22" x2="223.10" y2="686.30" stroke="#2a2aff" stroke-width="1.2"/>
<line x1="333.40" y1="597.22" x2="333.40" y2="686.30" stroke="#2a2aff" stroke-width="1.2"/>
<line x1="340.10" y1="597.22" x2="340.10" y2="686.30" stroke="#108a10" stroke-width="1.2"/>
<line x1="445.20" y1="597.22" x2="445.20" y2="686.30" stroke="#108a10" stroke-width="1.2"/>
<line x1="581.80" y1="597.22" x2="581.80" y2="686.30" stroke="#2a2aff" stroke-width="1.3"/>
<line x1="54.50" y1="670.58" x2="672.80" y2="670.58" stroke="#0000ff" stroke-width="1.3" stroke-dasharray="4.2 2.6"/>
<line x1="54.50" y1="597.22" x2="54.50" y2="686.80" stroke="#333" stroke-width="1"/>
<line x1="54.00" y1="686.30" x2="673.30" y2="686.30" stroke="#333" stroke-width="1"/>
<line x1="52.50" y1="686.30" x2="54.50" y2="686.30" stroke="#333" stroke-width="1"/>
<text x="0" y="0" font-size="8.3" text-anchor="end" fill="#111" transform="translate(49.70 689.10) scale(0.86 1)">0</text>
<line x1="52.50" y1="660.10" x2="54.50" y2="660.10" stroke="#333" stroke-width="1"/>
<text x="0" y="0" font-size="8.3" text-anchor="end" fill="#111" transform="translate(49.70 662.90) scale(0.86 1)">5</text>
<line x1="52.50" y1="633.90" x2="54.50" y2="633.90" stroke="#333" stroke-width="1"/>
<text x="0" y="0" font-size="8.3" text-anchor="end" fill="#111" transform="translate(49.70 636.70) scale(0.86 1)">10</text>
<line x1="52.50" y1="607.70" x2="54.50" y2="607.70" stroke="#333" stroke-width="1"/>
<text x="0" y="0" font-size="8.3" text-anchor="end" fill="#111" transform="translate(49.70 610.50) scale(0.86 1)">15</text>
<text x="0" y="0" font-size="9.5" text-anchor="middle" fill="#111" transform="translate(31.30 643.26) rotate(-90)">R72A10&gt;W1118</text>
<path d="M54.2 749.1 L54.6 746.7 L55.4 745.5 L56.3 756.1 L57.3 779.4 L58.1 760.7 L58.9 763.1 L59.6 788.8 L60.4 768.9 L61.2 770.1 L62.2 777.1 L63.1 779.4 L63.9 780.6 L64.5 758.4 L65.1 726.9 L65.9 758.4 L66.8 781.8 L67.8 763.1 L68.6 760.7 L69.4 765.4 L70.1 750.2 L70.9 774.7 L71.8 786.4 L72.5 788.8 L73.3 781.8 L74.1 754.9 L75.0 786.4 L75.6 770.1 L76.4 751.4 L77.1 750.2 L77.9 740.9 L78.8 753.7 L79.5 766.6 L80.3 765.4 L80.9 750.2 L81.6 726.3 L82.3 752.6 L83.2 771.2 L84.1 770.1 L84.9 752.6 L85.8 753.7 L86.7 782.9 L87.5 729.2 L88.5 749.1 L89.3 744.4 L90.2 751.4 L90.9 736.8 L91.6 781.8 L92.5 765.4 L93.5 756.1 L94.3 746.7 L95.1 745.5 L96.0 760.7 L97.0 779.4 L97.8 774.7 L99.0 758.4 L99.8 750.2 L100.7 744.4 L101.6 749.1 L102.5 763.1 L103.6 775.9 L104.5 765.4 L105.2 735.0 L106.0 744.4 L106.8 770.1 L107.7 746.7 L108.4 736.8 L109.1 760.7 L109.8 780.6 L110.6 779.4 L111.8 775.9 L113.0 772.4 L114.1 768.9 L115.3 758.4 L116.5 740.3 L117.3 791.1 L118.2 758.4 L119.2 732.7 L120.0 758.4 L120.8 742.0 L121.7 725.7 L122.7 740.9 L123.5 763.1 L124.3 770.1 L125.5 774.7 L126.4 780.6 L127.0 760.7 L127.8 780.6 L128.7 761.9 L129.7 777.1 L130.5 774.7 L131.3 770.1 L132.5 760.7 L133.2 764.2 L134.4 761.3 L135.5 749.6 L136.6 748.2 L137.3 738.0 L138.0 726.3 L139.1 732.1 L140.2 751.1 L141.4 752.6 L142.4 735.0 L143.4 773.0 L144.6 746.7 L145.3 726.3 L146.4 743.8 L147.5 732.1 L148.2 758.4 L149.3 761.3 L150.4 729.2 L151.6 768.6 L152.6 790.5 L153.6 771.5 L154.8 770.1 L156.0 787.6 L157.0 775.9 L158.0 764.2 L158.9 784.7 L159.9 780.3 L160.9 775.9 L162.1 774.5 L163.3 751.1 L164.3 765.7 L165.3 773.0 L166.5 771.5 L167.7 765.7 L168.7 781.8 L169.7 773.0 L170.9 762.8 L172.0 777.4 L173.1 781.8 L174.1 789.1 L175.3 775.9 L176.7 777.4 L178.2 780.3 L179.6 778.8 L181.1 764.2 L182.3 749.6 L183.3 758.4 L184.3 773.0 L185.5 780.3 L186.9 774.5 L188.1 773.0 L189.6 758.4 L190.6 767.2 L191.6 773.0 L192.8 754.7 L193.9 771.5 L195.0 761.3 L196.0 758.4 L196.9 768.6 L197.9 746.7 L198.9 770.1 L199.8 762.8 L200.8 759.9 L201.8 767.2 L203.0 768.6 L204.2 781.8 L205.2 789.1 L206.2 781.8 L207.4 768.6 L208.8 762.8 L210.0 762.0 L211.0 767.2 L212.5 778.8 L213.5 783.2 L214.4 742.3 L215.4 743.8 L216.4 755.5 L217.6 726.3 L218.8 738.0 L219.8 758.4 L220.8 773.0 L222.0 778.8 L223.1 756.9 L224.2 775.9 L225.6 764.2 L227.1 773.0 L228.5 762.8 L228.6 762.8 L229.7 765.7 L230.5 781.8 L231.6 778.8 L232.6 781.8 L233.8 786.1 L234.5 789.1 L235.5 781.8 L236.7 777.4 L237.8 780.3 L238.9 778.8 L239.9 783.2 L241.1 784.7" fill="none" stroke="#808080" stroke-width="1.7" stroke-linejoin="round"/>
<path d="M243.2 773.0 L244.3 756.9 L245.4 767.2 L246.6 786.1 L247.6 751.1 L248.6 761.3 L249.8 777.4 L251.0 789.1 L252.0 775.9 L253.0 771.5 L254.2 770.1 L255.7 771.5 L256.8 777.4 L257.8 781.8 L258.9 775.9 L260.0 774.5 L261.2 777.4 L262.2 781.8 L263.2 758.4 L264.4 775.9 L265.6 771.5 L266.6 774.5 L267.6 789.1 L268.8 778.8 L270.0 770.1 L271.0 752.6 L272.0 784.7 L273.2 748.2 L274.3 747.4 L275.4 751.1 L276.4 749.6 L277.6 751.1 L278.7 758.4 L279.7 762.8 L280.8 773.0 L281.9 764.2 L283.1 775.9" fill="none" stroke="#808080" stroke-width="1.7" stroke-linejoin="round"/>
<path d="M285.6 761.3 L286.6 770.1 L287.8 755.5 L288.9 755.5 L290.0 764.2 L291.0 746.7 L291.9 761.3 L292.9 778.8 L293.9 745.3 L295.1 762.8 L296.2 761.3 L297.3 768.6 L298.3 755.5 L299.5 767.2 L300.2 783.9 L301.2 778.8 L302.4 778.8 L303.5 768.6 L304.6 762.8 L305.3 784.7 L306.5 774.5 L307.5 774.5 L308.5 770.1 L309.7 761.3 L310.4 752.6 L311.4 778.8 L312.3 770.1 L313.3 758.4 L314.3 746.7 L315.5 762.8 L316.7 755.5 L317.7 754.0 L318.7 736.5 L319.9 739.4 L320.8 731.4 L321.6 743.8 L322.5 764.2 L323.5 768.6 L324.4 774.5 L325.5 775.9 L326.6 768.6 L327.6 765.7 L328.8 775.9 L329.9 759.9 L330.9 786.1 L332.0 777.4 L333.1 775.9 L334.6 777.4 L335.8 768.6 L336.8 775.9 L337.8 767.2 L339.0 746.7 L340.1 775.9 L341.2 751.1 L342.3 727.7 L343.4 748.2 L344.5 775.9 L345.5 789.1 L346.6 771.5 L347.7 771.5 L348.9 761.3 L349.9 751.1 L350.9 767.2 L351.8 784.7 L352.8 758.4 L353.9 747.4 L355.0 765.7 L356.2 751.1 L357.2 775.9 L358.2 770.1 L359.4 781.8 L360.6 771.5 L361.6 770.1 L362.6 775.9 L363.8 767.2 L365.0 765.7 L366.0 773.0 L367.0 778.8 L368.2 781.8 L369.3 787.6 L370.4 789.1 L371.4 773.0 L372.6 758.4 L373.7 755.5 L374.7 758.4 L375.8 774.5 L376.9 761.3 L378.1 751.1 L379.1 746.7 L380.1 749.6 L381.0 746.7 L382.0 758.4 L383.1 752.6 L384.2 758.4 L385.4 781.8 L386.4 765.7 L387.4 746.7 L388.6 755.5 L389.8 775.9 L390.8 784.7 L391.5 780.3 L392.7 784.7 L393.7 787.6 L394.5 748.2 L395.2 738.0 L396.2 765.7 L397.4 752.6 L398.5 770.1 L399.7 778.8 L401.0 774.5 L402.0 774.5 L403.2 773.0 L404.4 768.6 L405.4 761.3 L406.4 746.7 L407.6 762.8 L408.8 759.9 L409.8 768.6 L410.8 770.1 L412.0 767.2 L413.1 764.2 L414.2 765.7 L415.2 780.3 L416.4 771.5 L417.5 773.0 L418.7 771.5 L419.4 758.4 L420.5 751.1 L421.6 755.5 L422.6 758.4 L423.5 751.1 L424.5 739.4 L425.5 758.4 L426.4 749.6 L427.4 768.6 L428.4 774.5 L429.6 764.2 L430.8 786.1 L431.8 764.2 L432.8 756.9 L434.0 758.4 L435.1 770.1 L436.2 780.3 L437.2 786.1 L438.1 748.2 L439.1 764.2 L440.1 775.9 L441.3 764.2 L442.4 751.1 L443.5 758.4 L444.5 778.8 L445.7 780.3 L446.8 768.6 L447.8 738.0 L448.9 751.1 L449.7 784.7 L450.8 764.2 L451.8 781.8 L452.7 770.1 L453.7 749.6 L454.7 767.2 L455.9 745.3 L457.0 761.3 L458.1 739.4 L459.1 756.9 L460.0 761.3 L461.0 780.3 L462.0 743.8 L462.9 721.2 L463.9 758.4 L464.9 783.2 L466.1 770.1 L467.3 771.5 L468.3 770.1 L469.3 770.1 L470.2 723.4 L471.2 729.2 L472.2 730.7 L473.4 743.8 L474.6 780.3 L475.6 758.4 L476.6 723.4 L477.8 748.2 L478.9 781.8 L480.0 771.5 L481.0 775.9 L481.9 771.5 L482.9 740.9 L483.9 759.9 L485.1 738.0 L486.1 727.7 L487.3 751.1 L488.3 767.2 L489.2 784.7 L490.2 786.1" fill="none" stroke="#808080" stroke-width="1.7" stroke-linejoin="round"/>
<path d="M491.6 766.4 L492.7 761.3 L493.8 752.6 L495.0 758.4 L496.0 767.2 L497.0 746.7 L498.2 729.2 L499.4 751.1 L500.4 767.2 L501.1 720.4 L502.2 721.9 L503.3 743.8 L504.3 786.1 L505.2 770.1 L506.2 748.2 L507.3 781.8 L508.4 755.5 L509.6 790.5 L510.6 748.2 L511.6 778.8 L512.8 767.2 L514.0 751.1 L514.7 751.1 L515.8 773.0 L517.0 781.8 L518.0 787.6 L519.1 786.1 L520.2 781.8 L521.4 778.8 L522.4 770.1 L523.1 758.4 L524.2 783.2 L525.3 775.9 L526.4 777.4 L527.2 764.2 L528.2 777.4 L529.3 755.5 L530.1 726.3 L531.2 746.7 L532.2 755.5 L533.4 729.2 L534.5 724.8 L535.5 733.6 L536.6 748.2 L537.4 746.7 L538.5 778.8 L539.5 767.2 L540.4 764.2 L541.4 780.3 L542.4 771.5 L543.6 773.0 L544.7 773.0 L545.8 780.3 L546.8 764.2 L547.7 758.4 L548.7 754.0 L549.7 765.7 L550.9 773.0 L552.0 781.8 L553.1 787.6 L554.1 773.0 L555.3 742.3 L556.1 729.2 L557.0 726.3 L558.2 754.0 L559.3 781.8 L560.4 777.4 L561.1 783.2 L562.1 762.8 L563.3 784.7 L564.3 778.8 L565.2 739.4 L566.2 751.1 L567.2 746.7 L568.4 736.5 L569.4 734.3 L570.6 740.9 L571.6 761.3 L572.5 781.8 L573.5 758.4 L574.5 743.8 L575.7 770.1" fill="none" stroke="#808080" stroke-width="1.7" stroke-linejoin="round"/>
<path d="M577.9 771.5 L578.9 778.8 L580.1 781.8 L581.2 771.5 L582.3 768.6 L583.3 773.0 L584.5 778.8 L585.2 784.7 L585.9 775.9 L586.9 765.7 L588.1 761.3 L589.1 758.4 L590.3 749.6 L591.5 771.5 L592.5 778.8 L593.5 764.2 L594.7 752.6 L595.8 758.4 L596.9 735.0 L597.9 758.4 L598.8 749.6 L599.8 733.6 L600.5 725.5 L601.7 755.5 L602.7 771.5 L604.2 770.1 L605.2 749.6 L606.4 771.5 L607.5 746.7 L609.0 748.2 L609.2 749.9 L610.1 759.1 L611.0 778.8 L612.1 781.5 L613.1 784.1 L614.1 746.0 L615.0 726.3 L616.0 755.2 L617.1 780.1 L618.0 773.6 L618.9 734.2 L619.7 759.1 L620.6 765.7 L621.5 757.8 L622.6 756.5 L623.6 768.3 L624.6 777.5 L625.5 778.8 L626.5 776.2 L627.6 780.1 L628.5 776.2 L629.4 757.8 L630.5 747.3 L631.5 759.1 L632.4 776.2 L633.4 786.7 L634.4 768.3 L635.5 756.5 L636.4 782.8 L637.3 773.6 L638.4 763.1 L639.4 757.8 L640.3 756.5 L641.2 778.8 L642.3 776.2 L643.4 765.7 L644.7 746.0 L645.6 776.2 L646.5 784.1 L647.6 789.3 L648.6 759.1 L649.5 757.8 L650.4 760.4 L651.5 776.2 L652.5 781.5 L653.5 778.8 L654.4 781.5 L655.4 782.8 L656.5 780.1 L657.4 778.8 L658.3 773.6 L659.4 765.7 L660.4 749.9 L661.4 768.3 L662.3 765.7 L663.3 767.0 L664.4 769.6 L665.7 776.2 L667.0 776.2 L667.9 755.2 L668.8 752.6 L669.9 756.5 L670.9 781.5 L671.9 778.8" fill="none" stroke="#808080" stroke-width="1.7" stroke-linejoin="round"/>
<line x1="104.90" y1="704.52" x2="104.90" y2="793.60" stroke="#a8a8ff" stroke-width="1.4"/>
<line x1="110.40" y1="704.52" x2="110.40" y2="793.60" stroke="#2a2aff" stroke-width="1.2"/>
<line x1="163.30" y1="704.52" x2="163.30" y2="793.60" stroke="#108a10" stroke-width="1.1"/>
<line x1="207.40" y1="704.52" x2="207.40" y2="793.60" stroke="#108a10" stroke-width="1.1"/>
<line x1="221.70" y1="704.52" x2="221.70" y2="793.60" stroke="#006a00" stroke-width="1.6"/>
<line x1="225.50" y1="704.52" x2="225.50" y2="793.60" stroke="#5cb05c" stroke-width="1.8"/>
<line x1="226.20" y1="704.52" x2="226.20" y2="793.60" stroke="#5cb05c" stroke-width="1.0"/>
<line x1="234.00" y1="704.52" x2="234.00" y2="793.60" stroke="#006a00" stroke-width="1.3"/>
<line x1="235.50" y1="704.52" x2="235.50" y2="793.60" stroke="#006a00" stroke-width="1.3"/>
<line x1="237.40" y1="704.52" x2="237.40" y2="793.60" stroke="#108a10" stroke-width="1.1"/>
<line x1="247.20" y1="704.52" x2="247.20" y2="793.60" stroke="#108a10" stroke-width="1.1"/>
<line x1="251.00" y1="704.52" x2="251.00" y2="793.60" stroke="#006a00" stroke-width="1.1"/>
<line x1="252.00" y1="704.52" x2="252.00" y2="793.60" stroke="#006a00" stroke-width="1.1"/>
<line x1="254.20" y1="704.52" x2="254.20" y2="793.60" stroke="#5cb05c" stroke-width="1.1"/>
<line x1="258.90" y1="704.52" x2="258.90" y2="793.60" stroke="#006a00" stroke-width="1.3"/>
<line x1="265.00" y1="704.52" x2="265.00" y2="793.60" stroke="#5cb05c" stroke-width="1.2"/>
<line x1="358.60" y1="704.52" x2="358.60" y2="793.60" stroke="#006a00" stroke-width="1.2"/>
<line x1="360.90" y1="704.52" x2="360.90" y2="793.60" stroke="#006a00" stroke-width="1.2"/>
<line x1="369.20" y1="704.52" x2="369.20" y2="793.60" stroke="#108a10" stroke-width="1.2"/>
<line x1="371.10" y1="704.52" x2="371.10" y2="793.60" stroke="#108a10" stroke-width="1.2"/>
<line x1="385.70" y1="704.52" x2="385.70" y2="793.60" stroke="#006a00" stroke-width="1.2"/>
<line x1="386.90" y1="704.52" x2="386.90" y2="793.60" stroke="#006a00" stroke-width="1.2"/>
<line x1="393.40" y1="704.52" x2="393.40" y2="793.60" stroke="#108a10" stroke-width="0.8"/>
<line x1="419.60" y1="704.52" x2="419.60" y2="793.60" stroke="#108a10" stroke-width="1.2"/>
<line x1="447.10" y1="704.52" x2="447.10" y2="793.60" stroke="#5cb05c" stroke-width="1.2"/>
<line x1="453.20" y1="704.52" x2="453.20" y2="793.60" stroke="#108a10" stroke-width="1.4"/>
<line x1="517.60" y1="704.52" x2="517.60" y2="793.60" stroke="#108a10" stroke-width="1.1"/>
<line x1="521.40" y1="704.52" x2="521.40" y2="793.60" stroke="#108a10" stroke-width="1.1"/>
<line x1="584.50" y1="704.52" x2="584.50" y2="793.60" stroke="#006a00" stroke-width="1.3"/>
<line x1="586.20" y1="704.52" x2="586.20" y2="793.60" stroke="#006a00" stroke-width="1.3"/>
<line x1="629.60" y1="704.52" x2="629.60" y2="793.60" stroke="#108a10" stroke-width="1.1"/>
<line x1="651.80" y1="704.52" x2="651.80" y2="793.60" stroke="#108a10" stroke-width="1.1"/>
<line x1="654.40" y1="704.52" x2="654.40" y2="793.60" stroke="#108a10" stroke-width="1.1"/>
<line x1="658.10" y1="704.52" x2="658.10" y2="793.60" stroke="#006a00" stroke-width="1.8"/>
<line x1="666.90" y1="704.52" x2="666.90" y2="793.60" stroke="#006a00" stroke-width="1.8"/>
<line x1="672.30" y1="704.52" x2="672.30" y2="793.60" stroke="#108a10" stroke-width="1.1"/>
<line x1="54.50" y1="777.88" x2="672.80" y2="777.88" stroke="#0000ff" stroke-width="1.3" stroke-dasharray="4.2 2.6"/>
<line x1="54.50" y1="704.52" x2="54.50" y2="794.10" stroke="#333" stroke-width="1"/>
<line x1="54.00" y1="793.60" x2="673.30" y2="793.60" stroke="#333" stroke-width="1"/>
<line x1="52.50" y1="793.60" x2="54.50" y2="793.60" stroke="#333" stroke-width="1"/>
<text x="0" y="0" font-size="8.3" text-anchor="end" fill="#111" transform="translate(49.70 796.40) scale(0.86 1)">0</text>
<line x1="52.50" y1="767.40" x2="54.50" y2="767.40" stroke="#333" stroke-width="1"/>
<text x="0" y="0" font-size="8.3" text-anchor="end" fill="#111" transform="translate(49.70 770.20) scale(0.86 1)">5</text>
<line x1="52.50" y1="741.20" x2="54.50" y2="741.20" stroke="#333" stroke-width="1"/>
<text x="0" y="0" font-size="8.3" text-anchor="end" fill="#111" transform="translate(49.70 744.00) scale(0.86 1)">10</text>
<line x1="52.50" y1="715.00" x2="54.50" y2="715.00" stroke="#333" stroke-width="1"/>
<text x="0" y="0" font-size="8.3" text-anchor="end" fill="#111" transform="translate(49.70 717.80) scale(0.86 1)">15</text>
<text x="0" y="0" font-size="9.5" text-anchor="middle" fill="#111" transform="translate(31.30 750.56) rotate(-90)">TRPA1&gt;W1118</text>
<line x1="54.50" y1="793.60" x2="54.50" y2="796.10" stroke="#333" stroke-width="1"/>
<text x="54.50" y="805.70" font-size="9.3" text-anchor="middle" font-weight="normal" fill="#111">0</text>
<line x1="157.55" y1="793.60" x2="157.55" y2="796.10" stroke="#333" stroke-width="1"/>
<text x="157.55" y="805.70" font-size="9.3" text-anchor="middle" font-weight="normal" fill="#111">300</text>
<line x1="260.60" y1="793.60" x2="260.60" y2="796.10" stroke="#333" stroke-width="1"/>
<text x="260.60" y="805.70" font-size="9.3" text-anchor="middle" font-weight="normal" fill="#111">600</text>
<line x1="363.65" y1="793.60" x2="363.65" y2="796.10" stroke="#333" stroke-width="1"/>
<text x="363.65" y="805.70" font-size="9.3" text-anchor="middle" font-weight="normal" fill="#111">900</text>
<line x1="466.70" y1="793.60" x2="466.70" y2="796.10" stroke="#333" stroke-width="1"/>
<text x="466.70" y="805.70" font-size="9.3" text-anchor="middle" font-weight="normal" fill="#111">1200</text>
<line x1="569.75" y1="793.60" x2="569.75" y2="796.10" stroke="#333" stroke-width="1"/>
<text x="569.75" y="805.70" font-size="9.3" text-anchor="middle" font-weight="normal" fill="#111">1500</text>
<line x1="672.80" y1="793.60" x2="672.80" y2="796.10" stroke="#333" stroke-width="1"/>
<text x="672.80" y="805.70" font-size="9.3" text-anchor="middle" font-weight="normal" fill="#111">1800</text>
<text x="364.10" y="818.20" font-size="9.3" text-anchor="middle" font-weight="normal" fill="#111">time (s)</text>
<text x="0" y="0" font-size="9.7" text-anchor="middle" fill="#111" transform="translate(10.30 642.00) rotate(-90)">Fly Pair Distance (mm)</text>
</svg></body></html>
